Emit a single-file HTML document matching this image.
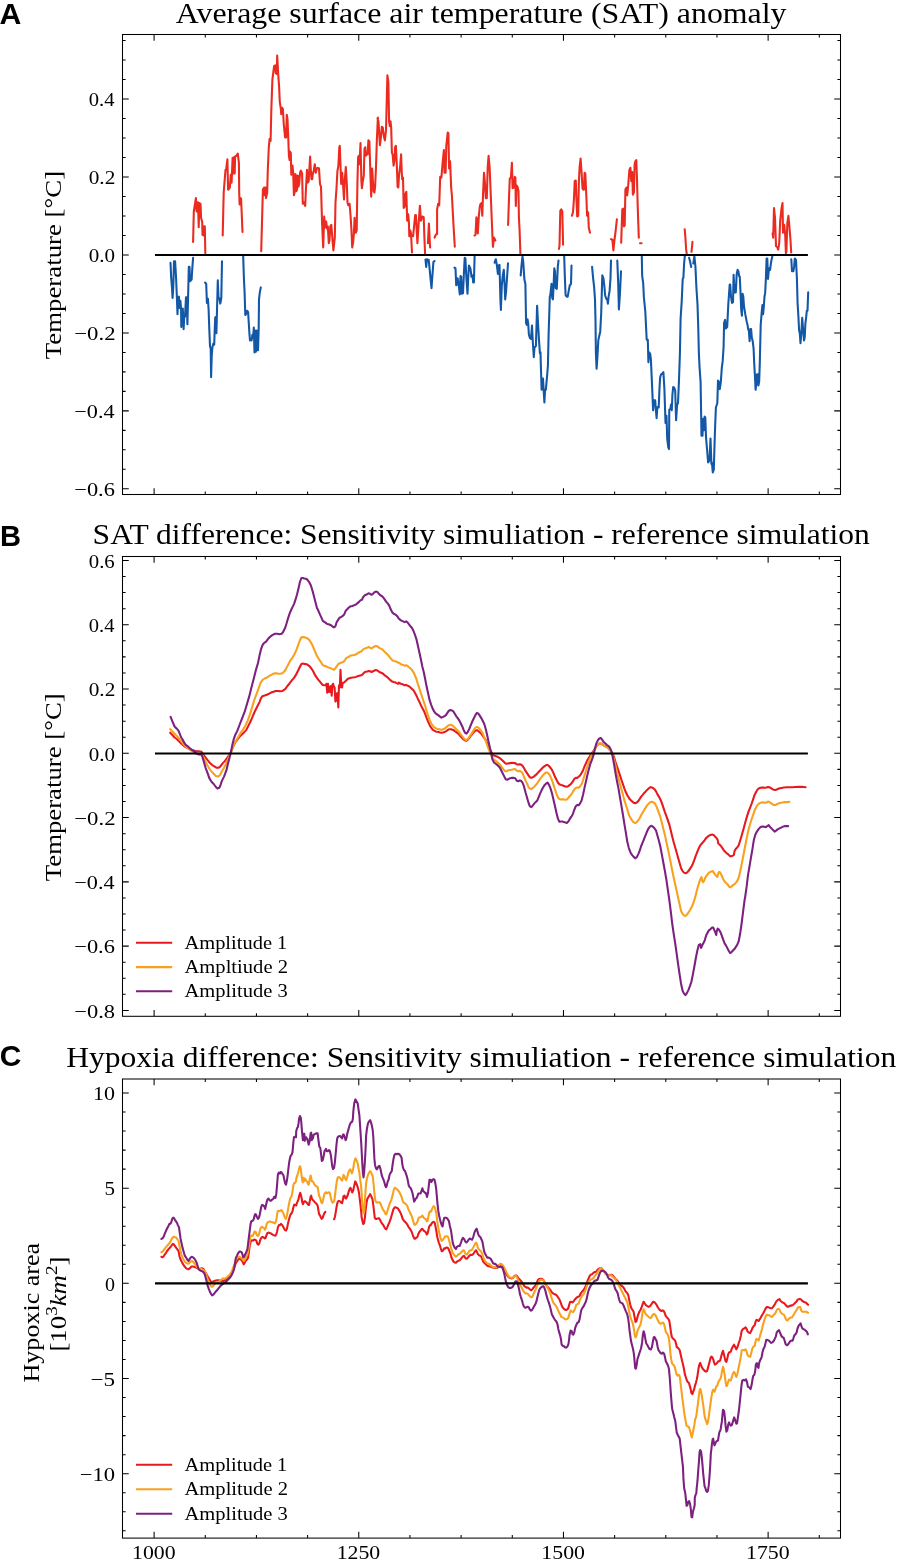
<!DOCTYPE html><html><head><meta charset="utf-8"><style>html,body{margin:0;padding:0;background:#fff;}svg{display:block;will-change:transform}text{fill:#000}</style></head><body>
<svg width="897" height="1559" viewBox="0 0 897 1559">
<rect width="897" height="1559" fill="#fff"/>
<g fill="none" stroke-width="2.08" stroke-linejoin="round" stroke-linecap="round">
<path d="M193.1 241.9 L193.8 211.5 L195.9 198.1 L196.6 211.5 L198.0 202.4 L198.7 227.1 L199.4 203.1 L200.5 203.8 L201.1 217.9 L202.2 222.1 L202.5 234.8 L203.4 235.5 L204.1 226.4 L204.8 226.4 L205.3 253.2 M222.7 235.5 L223.7 192.5 L225.5 169.9 L226.2 169.2 L227.4 159.3 L228.1 189.6 L229.1 188.9 L229.8 187.5 L230.8 174.8 L231.6 182.6 L232.6 157.9 L233.3 173.4 L234.0 157.2 L234.7 173.4 L235.1 156.5 L236.4 155.8 L237.8 153.6 L238.9 162.8 L239.2 192.5 L239.6 204.5 L240.4 198.1 L241.1 198.8 L242.5 232.0 M261.2 251.1 L262.9 189.6 L264.1 187.5 L264.6 195.3 L265.5 187.5 L266.0 198.1 L267.2 192.5 L267.8 169.9 L268.8 147.3 L269.6 138.8 L270.6 140.9 L271.3 110.6 L272.4 79.5 L274.1 66.1 L275.2 65.4 L275.8 73.2 L276.7 73.9 L277.2 55.5 L278.1 72.5 L279.1 86.6 L279.8 102.1 L280.9 109.2 L281.2 114.1 L282.3 107.8 L282.9 109.2 L283.7 123.3 L285.1 137.4 L286.1 137.4 L286.8 114.8 L287.5 119.1 L288.2 136.0 L288.9 155.8 L289.6 160.0 L289.9 151.5 L290.8 152.9 L291.3 174.8 L292.5 165.6 L293.2 172.7 L293.9 195.3 L294.6 192.5 L295.3 174.1 L296.0 175.5 L296.4 191.1 L297.0 189.6 L297.8 175.5 L298.4 186.8 L299.2 184.0 L300.2 172.0 L300.9 170.6 L302.1 173.4 L302.8 203.8 L304.0 202.4 L305.2 205.9 L305.9 189.6 L307.0 169.9 L307.7 182.6 L308.7 181.2 L310.1 156.5 L310.8 169.9 L311.5 179.1 L312.2 179.1 L312.9 173.4 L313.6 171.3 L314.8 164.2 L315.8 172.7 L316.8 168.5 L317.9 167.8 L319.0 168.5 L320.0 184.0 L321.0 186.8 L322.1 223.5 L323.2 247.5 L324.2 216.5 L324.9 227.8 L326.1 221.4 L327.1 228.5 L327.8 226.4 L328.8 243.3 L329.5 240.5 L330.3 226.4 L331.3 224.9 L332.3 237.6 L333.4 250.4 L334.8 237.6 L335.5 202.4 L336.5 188.2 L337.4 171.3 L338.4 165.6 L339.3 147.3 L339.8 145.9 L341.2 184.0 L342.2 172.7 L343.3 188.2 L344.0 199.5 L344.7 181.2 L345.8 167.1 L346.8 184.0 L347.5 202.4 L348.2 205.2 L349.6 203.8 L350.6 216.5 L351.5 230.6 L352.2 247.5 L353.2 241.9 L353.9 233.4 L354.6 217.9 L355.7 232.7 L356.7 230.6 L357.4 184.0 L358.1 157.2 L358.8 155.8 L359.5 164.2 L360.5 143.1 L361.4 181.2 L361.9 188.2 L362.8 181.2 L363.8 175.5 L364.5 148.7 L365.2 147.3 L365.9 155.8 L366.6 152.9 L367.6 154.4 L368.4 140.2 L369.4 141.6 L370.4 174.1 L371.2 196.7 L372.2 168.5 L372.9 181.2 L373.6 191.1 L374.4 192.5 L375.1 186.8 L376.0 167.1 L376.9 138.8 L377.9 117.6 L377.5 118.4 L378.5 121.9 L379.9 145.2 L380.9 137.4 L381.8 126.8 L382.8 127.5 L383.8 136.0 L384.9 140.5 L386.0 130.4 L387.4 75.3 L388.4 82.4 L389.1 121.9 L389.8 126.1 L390.5 121.2 L391.2 127.5 L391.9 152.9 L392.6 154.4 L393.6 165.6 L394.5 160.0 L395.0 147.3 L395.9 145.9 L396.9 167.1 L397.6 186.8 L398.3 187.5 L399.0 175.5 L400.1 167.1 L401.1 154.4 L401.8 172.7 L402.2 179.1 L403.0 177.6 L403.7 208.0 L404.6 206.6 L405.4 193.9 L406.3 191.8 L407.2 220.7 L408.2 214.4 L408.9 222.1 L409.3 236.2 L410.3 230.6 L411.0 233.4 L412.0 252.5 M413.1 236.2 L415.2 215.1 L415.9 215.1 L417.4 243.3 L418.8 220.7 L419.9 205.9 L420.9 220.7 L422.3 216.5 L423.7 217.2 L424.4 237.6 L425.1 253.9 M427.9 243.3 L428.9 223.5 L430.1 247.5 M434.6 237.6 L435.7 234.8 L437.1 234.1 L437.1 209.4 L438.2 203.8 L439.2 205.2 L440.2 176.9 L441.4 177.6 L442.5 164.2 L443.9 150.1 L444.5 172.7 L445.6 172.7 L446.3 145.9 L447.7 132.5 L448.4 133.2 L449.1 168.5 L450.1 161.4 L451.2 188.2 L451.9 195.3 L453.4 223.5 L454.8 246.8 M474.5 235.5 L475.5 234.8 L476.4 217.2 L476.9 220.7 L477.8 233.4 L478.8 216.5 L479.8 206.6 L480.6 203.8 L481.6 203.1 L482.3 215.8 L483.0 195.3 L484.0 172.7 L484.8 181.2 L485.8 198.1 L486.8 198.1 L487.7 167.1 L488.6 155.8 L489.6 167.1 L490.8 195.3 L491.9 223.5 L492.9 246.8 L494.0 237.6 L495.4 240.5 M508.1 224.9 L509.1 195.3 L509.8 178.4 L510.9 177.6 L511.9 162.8 L512.6 188.2 L513.7 187.5 L514.7 176.9 L515.4 177.6 L515.8 205.9 L516.5 185.4 L517.5 186.8 L518.5 191.1 L518.9 216.5 L519.6 230.6 L520.4 253.9 M558.9 248.9 L559.5 246.1 L560.3 210.8 L561.3 209.4 L562.3 211.5 L563.1 244.7 M571.9 215.8 L573.0 212.2 L574.0 198.1 L574.7 181.2 L575.8 180.5 L576.4 198.1 L577.2 216.5 L578.2 215.8 L578.9 181.2 L579.6 167.1 L580.6 158.6 L581.5 171.3 L582.5 188.2 L583.2 189.6 L583.9 189.6 L584.6 172.7 L585.3 173.4 L586.3 195.3 L587.1 215.8 L588.1 212.2 L588.8 227.8 L590.0 232.7 M611.0 239.1 L612.4 239.8 L613.4 250.4 L614.4 240.5 L615.5 232.0 L616.9 219.3 M621.2 242.6 L622.3 209.4 L623.3 208.7 L624.0 226.4 L624.7 225.6 L625.4 189.6 L626.5 187.5 L627.2 195.3 L628.2 185.4 L629.4 169.9 L630.4 167.8 L631.3 181.2 L632.2 172.0 L632.9 194.6 L633.9 192.5 L634.6 164.2 L635.3 161.4 L636.3 160.0 L637.0 179.8 L637.8 209.4 L638.8 237.6 M640.0 243.3 L641.6 243.3 M684.7 229.2 L685.4 237.6 L686.1 248.9 L686.8 254.6 M691.5 251.8 L692.5 241.9 M772.6 233.4 L773.2 237.6 L774.0 208.0 L775.0 217.9 L776.0 246.1 L777.1 246.8 L778.2 249.6 L779.2 243.3 L780.2 220.7 L781.4 209.4 L782.5 203.1 L783.0 232.7 L784.2 224.9 L785.2 234.8 L785.9 253.2 L786.4 251.8 L787.3 223.5 L788.4 215.8 L789.5 227.8 L790.5 240.5 L791.2 252.5" stroke="#eb2b20"/>
<path d="M170.5 262.7 L171.2 278.2 L171.9 286.7 L172.6 298.0 L173.3 286.7 L174.0 261.3 L175.1 261.3 L176.1 278.2 L176.8 295.2 L177.5 314.2 L178.2 298.0 L178.9 296.6 L179.6 307.9 L180.4 300.8 L181.1 309.3 L181.3 326.9 L182.2 309.3 L182.8 308.6 L183.6 329.1 L184.2 317.8 L185.0 316.4 L186.0 297.3 L186.7 297.3 L187.4 324.1 L188.1 296.6 L188.8 266.9 L189.5 266.9 L190.0 281.1 L190.9 280.4 L191.6 279.6 L192.4 266.9 L193.1 257.8 M205.1 282.5 L206.2 283.9 L206.9 302.9 L207.9 298.7 L208.6 309.3 L209.3 329.1 L210.0 346.0 L210.7 348.8 L211.1 377.1 L211.7 355.9 L212.4 347.4 L213.2 343.9 L214.2 344.6 L214.7 330.5 L215.2 317.8 L215.6 317.1 L216.4 333.3 L217.1 306.5 L217.8 280.4 L218.5 298.0 L219.2 298.0 L220.3 303.6 L221.3 298.0 L222.0 261.3 M243.2 256.4 L243.9 278.2 L244.6 292.4 L245.3 314.9 L246.0 314.2 L247.1 310.7 L248.1 312.1 L248.8 323.4 L249.5 334.7 L250.0 340.4 L250.9 339.6 L251.6 340.4 L252.4 334.7 L253.1 337.5 L253.8 327.6 L254.5 352.4 L255.2 330.5 L255.9 351.6 L256.6 330.5 L257.3 350.2 L258.0 350.2 L258.7 327.6 L259.0 299.4 L259.8 292.4 L260.8 287.4 M425.5 259.6 L426.2 266.9 L427.0 259.2 M428.7 259.9 L431.5 288.1 L433.4 262.0 L434.5 261.0 M454.5 267.6 L455.5 268.4 L456.2 285.3 L456.9 284.6 L457.6 278.2 L458.8 285.3 L459.8 294.5 L460.5 276.1 L461.2 276.8 L461.9 293.8 L463.0 293.1 L464.0 271.2 L464.7 257.8 L465.4 258.5 L466.4 278.2 L467.5 293.8 L468.2 278.2 L468.9 265.5 L470.4 268.4 L471.5 276.8 L472.5 275.4 L473.2 282.5 L473.9 282.5 L474.6 256.4 M494.6 262.7 L495.8 259.2 L496.9 265.5 L497.9 274.0 L498.5 265.5 L499.5 264.8 L499.9 279.6 L500.4 299.4 L500.9 310.0 L501.8 285.3 L502.8 275.4 L503.8 269.8 L504.6 285.3 L505.2 299.4 L506.0 292.4 L507.0 278.2 L508.0 263.4 M520.7 275.4 L521.5 265.5 L522.5 256.4 L523.2 261.3 L524.4 279.6 L525.4 283.9 L526.1 323.4 L526.8 324.8 L527.5 319.2 L528.2 323.4 L528.9 334.7 L530.0 338.2 L531.0 338.9 L532.0 325.5 L532.8 341.8 L533.8 357.3 L534.5 347.4 L535.9 346.0 L537.1 305.8 L538.1 324.8 L539.0 340.4 L539.9 353.1 L540.5 352.4 L540.9 367.2 L541.6 389.8 L542.3 378.5 L543.0 378.5 L543.7 391.2 L544.4 402.5 L545.1 389.8 L545.8 389.8 L547.0 377.1 L547.9 365.8 L548.6 334.7 L549.8 296.6 L550.3 295.2 L551.5 283.9 L552.2 298.0 L552.9 299.4 L553.6 285.3 L554.3 268.4 L555.0 271.2 L555.7 288.1 L556.8 288.8 L557.8 266.9 L558.5 260.6 M564.2 256.4 L564.9 278.2 L565.6 295.2 L566.7 296.6 L567.7 296.6 L568.7 290.9 L569.8 285.3 L571.0 283.9 L571.5 265.5 M592.1 266.9 L593.1 278.2 L594.1 286.7 L595.0 299.4 L595.5 320.6 L595.9 353.1 L596.6 368.6 L597.4 357.3 L598.3 340.4 L599.2 336.1 L600.2 331.9 L601.2 313.5 L602.3 275.4 L603.4 278.2 L604.4 286.7 L605.1 295.2 L606.2 298.7 L607.2 299.4 L607.9 303.6 L608.6 296.6 L609.6 290.9 L610.5 278.2 L611.0 260.6 M617.3 260.6 L618.2 283.2 L618.9 309.4 L619.9 294.5 L621.0 271.2 M641.8 256.4 L642.2 276.2 L643.2 283.2 L643.9 297.4 L645.3 311.5 L646.0 325.6 L646.7 339.7 L647.8 339.7 L648.4 362.3 L649.2 352.4 L650.2 353.8 L650.9 359.5 L651.6 375.0 L652.4 393.4 L653.1 410.3 L654.0 400.4 L655.2 400.4 L655.9 410.3 L656.6 418.1 L657.3 407.5 L658.0 406.8 L658.7 407.5 L659.4 390.5 L660.1 377.8 L661.1 374.3 L662.2 373.6 L663.4 372.2 L664.4 389.1 L665.1 410.3 L665.5 423.0 L666.5 415.9 L667.2 438.5 L668.2 447.0 L669.0 449.1 L669.3 409.6 L670.4 408.9 L671.0 404.6 L671.8 410.3 L672.4 394.8 L673.2 387.0 L674.2 387.7 L675.2 390.5 L676.1 420.2 L677.1 404.6 L678.0 403.2 L678.9 382.1 L679.9 353.8 L680.6 318.5 L681.7 301.6 L682.7 279.0 L683.4 277.6 L684.1 263.5 L684.8 256.4 M689.1 257.8 L690.2 262.1 L691.2 267.0 M693.3 263.5 L694.4 256.4 L695.4 266.3 L696.4 287.5 L697.5 304.4 L698.2 325.6 L698.9 353.8 L699.6 367.9 L700.6 382.1 L701.5 435.7 L702.5 435.7 L702.9 418.8 L703.9 430.1 L704.6 416.6 L705.3 417.4 L706.0 437.1 L707.1 449.8 L708.1 462.5 L709.5 460.4 L710.5 438.5 L711.4 463.9 L711.9 462.5 L712.8 472.4 L713.8 469.6 L714.5 445.6 L715.2 424.4 L715.9 407.5 L717.3 403.2 L718.0 380.6 L719.0 382.1 L719.8 389.1 L720.8 382.1 L721.8 367.9 L722.7 360.9 L723.6 346.8 L724.1 322.8 L725.1 319.9 L725.8 328.4 L727.2 327.0 L728.3 304.4 L729.7 284.6 L730.2 284.6 L731.0 296.6 L732.0 302.9 L733.0 302.2 L733.6 274.7 L734.1 283.9 L734.8 292.4 L735.8 292.4 L736.7 274.0 L737.6 269.8 L738.4 271.2 L739.1 276.1 L739.8 276.8 L740.5 292.4 L741.2 309.3 L741.9 315.6 L742.6 293.8 L743.3 296.6 L744.0 306.5 L745.4 314.9 L746.8 322.0 L747.5 324.8 L748.2 329.1 L748.9 331.2 L749.6 341.1 L750.4 329.1 L751.1 329.1 L751.8 337.5 L752.8 341.8 L753.6 348.8 L754.2 362.9 L755.0 377.1 L755.6 389.8 L756.4 382.7 L757.0 374.2 L757.8 374.2 L758.4 385.5 L759.2 381.3 L759.8 362.9 L760.7 324.8 L761.6 313.5 L762.4 305.1 L763.1 314.2 L763.8 306.5 L764.5 296.6 L765.2 292.4 L765.9 278.2 L766.6 258.5 L767.3 258.5 L768.0 278.9 L768.7 271.2 L769.4 268.4 L770.1 269.8 L770.8 264.1 L771.5 259.9 L772.5 255.6 M791.3 259.2 L792.0 271.2 L792.7 271.2 L793.4 271.2 L794.1 266.9 L794.8 258.5 L796.0 259.9 L796.9 278.2 L797.6 303.6 L798.4 316.4 L799.1 330.5 L799.8 333.3 L800.5 343.2 L801.2 334.7 L802.2 317.8 L803.3 331.9 L804.0 340.4 L804.7 337.5 L805.4 323.4 L806.1 317.8 L806.8 310.7 L807.5 310.7 L808.2 292.4" stroke="#1358a6"/>
<path d="M155 255H807.9" stroke="#000" stroke-linecap="butt"/>
<path d="M170.2 732.7 L172.4 735.0 L174.6 737.5 L176.8 739.0 L179.0 741.2 L181.2 743.4 L183.5 745.6 L185.7 747.1 L188.6 748.6 L191.6 749.8 L194.5 750.8 L196.7 751.3 L198.9 751.3 L201.6 751.8 L203.4 754.5 L205.6 757.5 L207.8 760.4 L210.0 763.1 L212.2 765.1 L214.4 766.3 L216.7 767.8 L218.4 767.8 L220.4 766.3 L222.6 763.4 L224.8 761.1 L227.0 758.2 L229.2 755.2 L231.1 751.5 L232.9 747.1 L235.1 742.7 L237.3 739.7 L239.5 736.8 L241.8 734.6 L244.0 732.4 L246.2 730.1 L248.4 725.7 L250.6 721.3 L252.8 716.1 L255.0 711.0 L257.3 706.5 L259.5 702.1 L260.9 698.4 L262.4 696.2 L264.6 695.5 L266.8 694.7 L269.1 693.7 L271.3 692.5 L273.5 691.8 L275.7 691.0 L277.9 691.0 L280.1 691.3 L282.3 691.0 L283.0 690.5 L284.4 689.7 L285.9 688.2 L287.4 686.0 L288.9 684.3 L290.3 682.3 L291.8 680.4 L294.0 677.9 L295.5 675.7 L297.0 672.7 L298.5 669.8 L299.9 666.8 L301.4 663.9 L302.9 663.6 L304.4 663.9 L306.6 664.2 L308.0 665.1 L309.5 666.1 L311.0 668.0 L312.5 670.1 L313.9 672.7 L315.4 675.7 L316.9 677.9 L318.4 679.8 L319.9 681.6 L321.3 683.4 L322.8 684.9 L324.3 685.3 L325.8 685.3 L326.5 683.8 L327.2 692.7 L328.0 683.8 L328.7 691.9 L329.4 686.8 L330.2 691.9 L330.9 686.0 L331.7 695.6 L332.4 685.3 L333.1 683.8 L333.9 686.8 L334.6 687.5 L335.4 701.5 L336.1 700.8 L336.8 693.4 L337.6 693.4 L338.3 707.4 L339.0 685.3 L339.8 687.5 L340.5 669.8 L341.3 686.0 L342.0 687.5 L342.7 683.1 L344.2 682.3 L345.7 680.9 L347.2 679.4 L348.6 678.4 L350.1 677.9 L352.3 677.5 L354.5 677.2 L356.0 676.9 L358.2 676.0 L360.4 675.4 L361.9 675.0 L363.4 673.5 L364.9 672.0 L367.1 671.6 L368.6 671.0 L370.0 671.3 L371.5 672.0 L373.0 671.3 L374.5 670.5 L375.9 670.1 L377.4 670.5 L378.9 671.6 L380.4 672.5 L381.8 673.0 L383.3 673.9 L384.8 675.4 L386.3 676.4 L387.7 677.5 L389.2 678.9 L390.7 680.4 L392.2 681.6 L393.7 682.0 L395.1 682.3 L396.6 683.1 L398.1 683.8 L398.7 682.7 L400.9 683.8 L403.1 684.4 L404.6 685.3 L406.1 684.9 L407.5 685.6 L409.0 686.3 L410.5 687.5 L412.0 688.9 L413.5 690.3 L414.9 692.7 L416.4 695.6 L417.9 698.9 L419.4 701.8 L420.8 705.1 L422.3 708.0 L423.8 710.7 L425.3 714.4 L426.7 718.1 L428.2 721.8 L429.7 725.2 L431.2 727.7 L432.6 729.6 L434.1 730.6 L435.6 731.4 L437.1 731.8 L438.5 732.1 L440.0 732.5 L441.5 732.8 L443.0 732.5 L444.4 732.1 L445.9 731.4 L447.4 730.2 L448.9 729.3 L450.4 729.2 L451.8 729.4 L453.3 729.9 L454.8 731.1 L456.3 732.1 L457.7 733.3 L459.2 734.6 L460.7 736.5 L462.2 738.0 L463.6 739.5 L465.1 740.5 L466.6 740.7 L468.1 739.5 L469.5 737.6 L471.0 735.5 L472.5 733.6 L474.0 732.1 L475.4 730.6 L476.9 730.2 L478.4 731.1 L479.9 732.4 L481.3 733.6 L482.8 735.8 L484.3 738.0 L485.8 740.2 L487.3 743.9 L488.7 746.9 L490.2 749.8 L491.7 752.8 L493.2 755.0 L494.6 755.7 L496.1 756.2 L497.6 756.8 L499.1 757.6 L500.5 758.7 L502.0 760.1 L503.5 761.6 L505.0 763.1 L506.4 763.8 L507.9 763.5 L510.1 763.1 L512.3 762.8 L513.7 763.1 L515.2 763.1 L516.6 764.3 L518.1 764.6 L519.6 764.3 L521.1 764.6 L522.5 765.8 L524.0 768.0 L525.5 770.9 L527.0 773.1 L528.5 775.4 L529.9 777.3 L531.4 777.9 L532.9 777.1 L534.4 776.1 L535.8 774.9 L537.3 773.4 L538.8 771.7 L540.3 770.2 L541.7 768.7 L543.2 767.2 L544.7 766.1 L546.2 765.0 L547.6 765.0 L549.1 766.1 L550.6 768.0 L552.1 770.2 L553.5 773.1 L555.0 776.8 L556.5 779.8 L558.0 782.7 L559.4 784.2 L560.9 784.9 L562.4 785.2 L563.9 786.1 L565.4 786.4 L566.8 786.7 L568.3 786.1 L569.8 784.9 L571.3 783.5 L572.7 781.7 L574.2 779.0 L575.7 777.9 L577.2 777.9 L578.6 776.8 L580.1 775.4 L581.6 773.1 L583.1 770.2 L584.5 766.5 L586.0 763.1 L587.5 759.9 L589.0 757.6 L590.4 755.4 L591.9 753.2 L593.4 751.0 L594.9 748.8 L596.3 746.3 L597.8 744.8 L599.3 743.6 L600.8 743.6 L602.3 744.4 L603.7 745.4 L605.2 746.3 L606.7 747.0 L608.2 748.0 L609.6 749.5 L611.1 751.0 L612.6 753.7 L614.1 757.2 L615.5 762.1 L617.0 766.5 L618.5 770.9 L620.0 775.4 L621.4 779.8 L622.9 784.2 L624.4 788.6 L625.9 792.3 L627.3 795.3 L628.8 797.5 L629.4 798.8 L630.9 800.3 L632.4 801.7 L633.9 802.8 L635.3 803.2 L636.8 802.5 L638.3 801.0 L639.8 798.8 L641.2 796.6 L642.7 794.8 L644.2 792.9 L645.7 791.4 L647.1 789.9 L648.6 788.5 L650.1 787.4 L651.6 787.4 L653.0 788.0 L654.5 789.2 L656.0 791.4 L657.5 794.4 L658.9 796.6 L660.4 799.5 L661.9 803.2 L663.4 807.6 L664.9 812.1 L666.3 815.8 L667.8 820.2 L669.3 824.6 L670.8 830.5 L672.2 836.4 L673.7 842.3 L675.2 847.5 L676.7 852.7 L678.1 857.8 L679.6 863.0 L681.1 868.2 L682.6 871.1 L684.0 872.6 L685.5 873.3 L687.0 872.6 L688.5 871.1 L689.9 868.9 L691.4 866.7 L692.9 863.7 L694.4 859.7 L695.8 855.6 L697.3 851.9 L698.8 848.2 L700.3 845.3 L701.8 843.5 L703.2 842.0 L704.7 840.1 L706.2 837.9 L707.7 836.7 L709.1 835.7 L710.6 834.9 L712.1 834.5 L713.6 834.9 L715.0 836.4 L716.5 837.9 L717.7 840.1 L718.3 843.5 L719.5 844.5 L720.9 846.0 L722.4 848.2 L723.9 850.4 L725.4 851.9 L726.8 853.4 L728.3 854.4 L730.1 856.3 L731.3 856.3 L732.7 855.6 L733.9 854.9 L734.5 851.2 L735.7 849.0 L737.2 847.5 L738.7 845.3 L740.1 840.8 L741.6 835.7 L743.1 830.5 L744.4 825.7 L745.8 820.5 L747.3 815.4 L748.8 810.9 L750.3 807.2 L751.7 803.5 L753.2 799.1 L754.7 794.7 L756.2 791.7 L757.6 789.5 L759.1 788.3 L760.6 787.7 L762.1 787.5 L763.5 787.6 L765.0 787.7 L766.5 787.5 L768.0 787.0 L769.4 787.3 L770.9 788.0 L772.4 789.1 L773.9 789.8 L775.4 790.0 L776.8 789.5 L778.3 788.8 L779.8 788.3 L781.3 788.0 L782.7 787.7 L784.2 787.5 L786.4 787.3 L789.4 787.3 L792.3 787.2 L795.3 787.0 L798.2 786.9 L801.2 786.9 L803.4 787.0 L805.6 787.2" stroke="#e8191e"/>
<path d="M170.2 729.1 L172.4 731.6 L174.6 733.8 L176.8 736.1 L179.0 738.3 L181.2 741.2 L183.5 744.2 L185.7 746.4 L188.6 748.6 L191.6 750.8 L194.5 752.6 L196.7 753.3 L198.9 753.8 L201.6 754.5 L203.1 756.7 L204.9 760.4 L207.1 764.8 L209.3 768.5 L211.5 771.5 L213.7 773.7 L215.9 775.9 L218.1 776.6 L219.9 775.2 L221.8 771.5 L224.0 767.8 L226.3 763.4 L228.5 758.2 L230.7 753.0 L232.6 747.9 L234.4 743.4 L236.6 739.7 L238.8 736.1 L241.0 732.4 L243.2 729.4 L245.4 725.7 L247.7 720.6 L249.9 714.6 L252.1 707.3 L254.3 699.9 L256.5 694.0 L258.7 688.1 L260.6 682.9 L262.4 680.0 L264.6 678.5 L266.8 677.7 L269.1 676.0 L271.3 674.8 L273.5 673.6 L275.7 673.3 L277.9 673.6 L280.1 673.8 L282.3 673.3 L283.0 672.7 L284.4 671.3 L285.9 669.1 L287.4 666.1 L288.9 663.2 L290.3 660.6 L291.8 658.7 L294.0 655.0 L295.5 652.1 L297.0 648.4 L298.5 644.0 L299.9 640.3 L301.4 637.3 L302.9 637.0 L304.4 637.3 L306.6 638.1 L308.0 638.8 L309.5 640.3 L311.0 642.5 L312.5 645.4 L313.9 648.8 L315.4 652.4 L316.9 655.8 L318.4 658.3 L319.9 660.6 L321.3 662.7 L322.8 665.1 L324.3 665.7 L326.5 666.5 L328.7 667.6 L330.9 668.3 L332.4 669.1 L333.9 669.8 L335.4 668.3 L336.8 666.1 L338.3 664.2 L339.8 663.2 L342.0 662.4 L343.5 661.7 L344.9 660.2 L346.4 658.0 L348.6 656.8 L350.1 655.8 L352.3 655.3 L354.5 655.0 L356.0 654.3 L358.2 652.8 L360.4 651.8 L361.9 650.9 L363.4 649.1 L364.9 648.4 L367.1 647.7 L368.6 646.9 L370.0 647.7 L371.5 648.4 L373.0 647.4 L374.5 646.5 L375.9 645.9 L377.4 646.2 L378.9 647.7 L380.4 648.4 L381.8 649.1 L383.3 650.3 L384.8 652.1 L386.3 653.3 L387.7 654.7 L389.2 656.5 L390.7 658.3 L392.2 660.2 L393.7 660.9 L395.1 661.2 L396.6 661.7 L398.1 662.7 L398.7 662.7 L400.9 664.2 L403.1 664.9 L404.6 665.7 L406.1 665.2 L407.5 666.1 L409.0 667.2 L410.5 668.6 L412.0 670.1 L413.5 672.3 L414.9 675.3 L416.4 679.0 L417.9 684.1 L419.4 688.6 L420.8 693.0 L422.3 697.4 L423.8 701.8 L425.3 706.3 L426.7 711.4 L428.2 715.9 L429.7 720.3 L431.2 723.2 L432.6 725.5 L434.1 727.2 L435.6 728.1 L437.1 728.7 L438.5 729.2 L440.0 729.4 L441.5 729.9 L443.0 729.3 L444.4 728.7 L445.9 727.7 L447.4 726.2 L448.9 725.2 L450.4 724.7 L451.8 725.2 L453.3 726.2 L454.8 727.7 L456.3 729.2 L457.7 730.6 L459.2 732.1 L460.7 734.3 L462.2 736.1 L463.6 738.0 L465.1 739.5 L466.6 739.9 L468.1 738.7 L469.5 736.5 L471.0 734.3 L472.5 732.1 L474.0 729.6 L475.4 727.7 L476.9 726.9 L478.4 727.7 L479.9 729.2 L481.3 731.1 L482.8 733.6 L484.3 737.3 L485.8 741.0 L487.3 745.4 L488.7 749.1 L490.2 752.8 L491.7 756.5 L493.2 759.1 L494.6 760.1 L496.1 761.2 L497.6 762.4 L499.1 763.8 L500.5 765.3 L502.0 767.5 L503.5 769.4 L505.0 770.9 L506.4 771.2 L507.9 770.5 L509.4 770.0 L511.6 769.7 L513.7 769.2 L515.2 769.0 L516.6 770.5 L518.1 771.2 L519.6 770.9 L521.1 771.7 L522.5 773.1 L524.0 776.8 L525.5 780.5 L527.0 783.5 L528.5 787.2 L529.9 788.6 L531.4 789.1 L532.9 787.9 L534.4 786.7 L535.8 784.9 L537.3 783.2 L538.8 780.8 L540.3 778.7 L541.7 776.8 L543.2 774.9 L544.7 773.4 L546.2 772.4 L547.6 772.7 L549.1 774.3 L550.6 776.8 L552.1 780.5 L553.5 784.9 L555.0 789.4 L556.5 793.8 L558.0 797.5 L559.4 799.0 L560.9 799.4 L562.4 799.4 L563.9 799.4 L565.4 799.7 L566.8 799.4 L568.3 797.9 L569.8 796.0 L571.3 794.5 L572.7 792.3 L574.2 789.7 L575.7 787.9 L577.2 787.6 L578.6 787.6 L580.1 786.4 L581.6 784.2 L583.1 780.2 L584.5 775.4 L586.0 770.9 L587.5 765.8 L589.0 761.3 L590.4 757.6 L591.9 754.7 L593.4 752.5 L594.9 749.2 L596.3 746.6 L597.8 744.8 L599.3 743.6 L600.8 743.3 L602.3 744.4 L603.7 745.4 L605.2 746.3 L606.7 746.9 L608.2 748.0 L609.6 749.5 L611.1 751.7 L612.6 755.1 L614.1 759.9 L615.5 765.8 L617.0 772.4 L618.5 778.3 L620.0 784.2 L621.4 789.4 L622.9 794.5 L624.4 800.4 L625.9 804.9 L627.3 809.3 L628.8 814.5 L629.4 815.8 L630.9 818.7 L632.4 820.9 L633.9 822.4 L635.3 823.1 L636.8 822.0 L638.3 820.2 L639.8 818.0 L641.2 815.0 L642.7 812.5 L644.2 809.9 L645.7 807.6 L647.1 805.4 L648.6 803.7 L650.1 802.2 L651.6 801.7 L653.0 802.2 L654.5 803.2 L656.0 805.4 L657.5 809.1 L658.9 812.8 L660.4 817.2 L661.9 823.1 L663.4 829.0 L664.9 834.9 L666.3 841.6 L667.8 848.2 L669.3 855.6 L670.8 863.0 L672.2 870.4 L673.7 877.7 L675.2 884.4 L676.7 891.0 L678.1 897.7 L679.6 904.3 L681.1 911.0 L682.6 913.9 L684.0 915.4 L685.5 916.1 L687.0 914.6 L688.5 912.4 L689.9 910.2 L691.4 907.6 L692.9 904.3 L694.4 899.9 L695.8 894.7 L697.3 888.8 L698.8 883.7 L700.3 879.2 L701.5 877.0 L702.0 880.0 L702.9 882.2 L704.0 881.0 L705.4 877.5 L706.9 875.1 L708.4 873.3 L709.9 872.1 L711.3 871.5 L712.8 871.1 L714.3 873.3 L715.8 875.5 L717.3 877.0 L718.3 873.3 L719.2 871.8 L720.2 872.6 L721.7 875.5 L723.2 878.9 L724.6 881.4 L726.1 882.9 L727.6 884.4 L729.1 886.6 L730.1 887.3 L731.3 886.6 L732.7 885.4 L734.2 884.4 L735.7 882.9 L737.2 881.0 L738.7 877.7 L740.1 871.8 L741.6 864.5 L743.1 857.1 L744.4 850.0 L745.8 842.7 L747.3 835.3 L748.8 828.6 L750.3 823.5 L751.7 819.0 L753.2 814.6 L754.7 810.2 L756.2 807.2 L757.6 805.0 L759.1 803.5 L760.6 802.8 L762.1 802.4 L763.5 802.4 L765.0 802.8 L766.5 802.5 L768.0 801.6 L769.4 802.1 L770.9 803.1 L772.4 804.3 L773.9 805.0 L775.4 805.0 L776.8 804.3 L778.3 803.5 L779.8 803.1 L781.3 802.8 L782.7 802.4 L784.2 802.1 L785.7 802.1 L787.2 802.1 L789.4 801.8" stroke="#f8a11f"/>
<path d="M170.6 716.9 L172.4 721.3 L174.6 726.5 L176.8 728.7 L178.6 730.9 L179.8 733.8 L181.2 737.5 L182.7 739.7 L184.2 742.7 L185.7 744.9 L187.9 746.4 L190.1 748.6 L192.3 750.1 L194.5 751.5 L196.7 753.8 L198.9 754.5 L201.2 753.8 L202.6 757.5 L204.1 762.6 L205.6 767.8 L207.8 773.7 L209.3 778.1 L211.5 781.8 L213.7 784.0 L215.9 787.0 L217.4 788.5 L219.3 787.7 L220.4 785.5 L221.8 781.1 L224.0 776.6 L226.3 770.7 L227.7 764.8 L229.2 758.9 L230.7 753.0 L232.2 745.6 L233.6 739.7 L235.1 735.3 L237.3 730.9 L239.5 725.0 L241.8 719.1 L244.7 711.7 L246.9 704.3 L249.1 696.9 L251.3 688.1 L253.6 679.2 L255.8 670.4 L258.0 663.0 L259.5 655.6 L260.9 649.7 L262.4 645.3 L263.9 643.1 L266.1 641.6 L268.3 638.6 L270.5 636.4 L272.7 634.9 L275.0 633.8 L277.2 633.8 L279.4 634.2 L281.6 633.8 L283.1 632.0 L283.7 630.7 L285.2 627.7 L286.6 623.3 L288.1 618.1 L289.6 613.7 L291.1 610.0 L292.5 607.1 L294.0 604.1 L295.5 599.7 L297.0 594.5 L298.5 588.6 L299.9 582.0 L301.4 578.0 L302.9 578.0 L304.4 578.6 L306.6 579.0 L308.0 580.5 L309.5 582.7 L311.0 585.7 L312.5 590.8 L313.9 596.0 L315.4 601.9 L316.9 607.8 L318.4 610.8 L319.9 614.4 L321.3 617.4 L322.8 620.8 L324.3 621.8 L325.8 622.9 L327.2 624.0 L328.7 624.3 L330.9 625.2 L332.4 626.3 L333.9 627.3 L335.4 626.3 L336.8 621.8 L338.3 619.6 L339.8 617.4 L341.3 617.0 L342.7 615.9 L344.2 614.4 L345.7 610.8 L347.2 609.3 L348.6 607.8 L350.1 606.6 L352.3 606.0 L354.5 605.1 L356.0 604.6 L357.5 603.1 L359.0 601.9 L360.4 600.4 L361.9 599.7 L363.4 596.7 L364.9 595.3 L367.1 594.2 L368.6 593.3 L370.0 593.8 L371.5 594.8 L373.0 593.8 L374.5 592.3 L375.9 591.6 L377.4 591.9 L378.9 593.8 L380.4 595.3 L381.8 596.0 L383.3 597.5 L384.8 599.7 L386.3 601.9 L387.7 603.4 L389.2 605.6 L390.7 609.3 L392.2 612.2 L393.7 613.7 L395.1 614.4 L396.6 615.5 L398.1 617.4 L398.7 618.5 L400.9 620.4 L403.1 621.4 L404.6 622.1 L406.1 621.4 L407.5 622.4 L409.0 624.4 L410.5 626.3 L412.0 628.0 L413.5 631.0 L414.9 634.7 L416.4 639.1 L417.9 645.8 L419.4 652.4 L420.8 659.0 L422.3 666.4 L423.8 672.3 L425.3 679.7 L426.7 687.1 L428.2 693.7 L429.7 700.4 L431.2 704.8 L432.6 708.5 L434.1 711.4 L435.6 713.4 L437.1 714.4 L438.5 715.4 L440.0 716.6 L441.5 717.6 L443.0 716.9 L444.4 716.3 L445.9 715.1 L447.4 712.9 L448.9 710.7 L450.4 710.0 L451.8 710.4 L453.3 711.4 L454.8 713.7 L456.3 716.3 L457.7 718.1 L459.2 720.3 L460.7 723.2 L462.2 726.2 L463.6 729.9 L465.1 732.8 L466.6 733.6 L468.1 731.4 L469.5 728.4 L471.0 724.7 L472.5 721.0 L474.0 718.1 L475.4 715.1 L476.9 712.9 L478.4 713.7 L479.9 715.9 L481.3 718.1 L482.8 721.0 L484.3 724.0 L485.8 729.2 L487.3 735.8 L488.7 742.4 L490.2 749.1 L491.7 755.0 L492.4 759.4 L493.9 762.4 L495.4 763.5 L496.8 764.6 L498.3 766.1 L499.8 767.5 L501.3 770.5 L502.7 773.4 L504.2 776.4 L505.7 779.3 L507.2 779.8 L508.7 778.9 L510.1 778.3 L511.6 777.9 L513.1 777.9 L513.7 777.9 L515.2 778.3 L516.6 780.5 L518.1 781.3 L519.6 780.5 L521.1 780.8 L522.5 782.7 L524.0 786.4 L525.5 792.3 L527.0 797.5 L528.5 802.7 L529.9 806.3 L531.4 807.1 L532.9 805.3 L534.4 803.4 L535.8 801.9 L537.3 800.4 L538.8 796.8 L540.3 793.1 L541.7 790.1 L543.2 787.2 L544.7 784.9 L546.2 783.5 L547.6 782.7 L549.1 784.9 L550.6 788.6 L552.1 793.8 L553.5 799.7 L555.0 806.3 L556.5 813.0 L558.0 818.9 L559.4 821.8 L560.9 821.5 L562.4 821.5 L563.9 822.1 L565.4 822.6 L566.8 822.9 L568.3 821.5 L569.8 818.9 L571.3 816.7 L572.7 814.5 L574.2 810.0 L575.7 806.3 L577.2 804.9 L578.6 805.3 L580.1 803.4 L581.6 800.4 L583.1 794.5 L584.5 787.9 L586.0 781.3 L587.5 774.6 L589.0 768.7 L590.4 763.5 L591.9 759.9 L593.4 755.4 L594.9 748.8 L596.3 743.6 L597.8 740.4 L599.3 738.5 L600.8 738.0 L602.3 739.9 L603.7 742.1 L605.2 743.3 L606.7 744.8 L608.2 745.8 L609.6 747.3 L611.1 750.3 L612.6 756.2 L614.1 764.3 L615.5 773.1 L617.0 781.3 L618.5 788.6 L620.0 797.5 L621.4 805.6 L622.9 814.5 L624.4 824.1 L625.9 832.9 L627.3 841.8 L628.8 847.7 L629.4 849.7 L630.9 853.4 L632.4 855.3 L633.9 857.1 L635.3 858.3 L636.8 857.1 L638.3 854.1 L639.8 850.4 L641.2 846.0 L642.7 842.3 L644.2 838.6 L645.7 834.9 L647.1 831.3 L648.6 828.3 L650.1 826.4 L651.6 825.8 L653.0 826.8 L654.5 828.3 L656.0 830.5 L657.5 835.7 L658.9 840.8 L660.4 846.8 L661.9 854.9 L663.4 863.0 L664.9 871.1 L666.3 879.2 L667.8 889.6 L669.3 899.9 L670.8 911.7 L672.2 923.5 L673.7 933.8 L675.2 943.4 L676.7 953.8 L678.1 964.1 L679.6 974.4 L681.1 984.0 L682.6 990.7 L684.0 993.6 L685.5 995.1 L687.0 992.9 L688.5 989.9 L689.9 986.2 L691.4 981.8 L692.9 974.4 L694.4 966.3 L695.8 958.2 L697.3 950.8 L698.8 944.9 L700.3 944.2 L701.0 947.9 L701.8 946.4 L703.2 943.4 L704.7 940.5 L706.2 935.3 L707.7 932.4 L709.1 930.1 L710.6 929.1 L712.1 927.6 L713.3 927.6 L714.3 930.1 L715.3 932.4 L716.2 935.0 L716.8 930.9 L717.7 928.7 L718.7 929.4 L720.2 931.6 L721.7 935.3 L723.2 939.7 L724.6 943.4 L726.1 945.6 L727.6 948.6 L729.1 951.5 L730.1 953.0 L731.3 952.3 L732.7 950.8 L734.2 949.3 L735.7 947.1 L737.2 944.9 L738.7 941.2 L740.1 933.8 L741.6 923.5 L743.1 911.7 L744.6 899.9 L745.1 897.3 L746.6 886.9 L748.0 875.1 L749.5 866.3 L751.0 857.4 L752.5 848.6 L753.9 839.7 L755.4 834.5 L756.9 831.6 L758.4 829.4 L759.9 827.6 L761.3 826.7 L762.8 826.4 L764.3 826.7 L765.8 827.2 L767.2 826.1 L768.7 825.2 L770.2 827.2 L771.7 828.6 L773.1 830.1 L774.6 831.6 L776.1 830.6 L777.6 829.4 L779.0 828.6 L780.5 827.9 L782.0 827.2 L783.5 826.4 L784.9 826.1 L786.4 826.1 L788.2 826.1" stroke="#7d2181"/>
<path d="M155 753.5H807.9" stroke="#000" stroke-linecap="butt"/>
<path d="M161.4 1256.8 L162.5 1257.2 L163.7 1256.2 L164.8 1254.5 L166.0 1252.8 L167.1 1251.0 L168.3 1249.5 L169.4 1248.2 L170.6 1247.0 L171.7 1245.3 L172.9 1243.8 L174.1 1244.7 L175.2 1246.4 L176.4 1248.2 L177.5 1249.5 L178.7 1251.6 L179.5 1256.2 L180.4 1259.1 L181.6 1261.4 L182.7 1263.7 L183.9 1265.5 L185.0 1266.9 L186.2 1268.4 L187.3 1268.9 L188.5 1269.2 L189.6 1268.4 L190.8 1267.2 L192.0 1266.4 L193.1 1266.6 L194.3 1266.9 L195.4 1267.2 L196.6 1267.8 L197.7 1268.4 L198.9 1268.7 L200.0 1268.9 L201.2 1268.4 L202.3 1268.4 L203.5 1268.9 L204.7 1271.2 L205.8 1273.0 L207.0 1275.3 L208.1 1277.0 L209.3 1279.1 L210.4 1281.1 L211.6 1282.2 L212.7 1281.6 L213.9 1281.1 L215.0 1280.7 L216.2 1280.5 L217.4 1280.3 L218.5 1280.3 L219.7 1280.5 L220.8 1281.1 L222.0 1280.7 L223.1 1281.1 L224.3 1280.5 L225.4 1279.9 L226.6 1279.3 L227.7 1278.2 L228.9 1277.0 L230.1 1275.6 L231.2 1273.6 L232.4 1271.8 L233.5 1269.5 L234.7 1266.1 L235.8 1263.2 L237.0 1261.4 L238.1 1259.7 L239.3 1258.5 L240.5 1259.1 L241.6 1260.3 L242.8 1262.0 L243.7 1264.3 L244.5 1263.2 L245.6 1260.9 L246.8 1259.7 L248.0 1258.0 L248.8 1252.8 L249.7 1245.8 L250.8 1241.2 L252.0 1240.3 L253.2 1240.6 L254.3 1239.5 L255.2 1239.9 L256.4 1240.7 L257.2 1243.6 L258.3 1244.7 L259.2 1243.6 L260.2 1240.1 L261.3 1237.8 L262.5 1236.9 L263.6 1237.2 L264.8 1238.4 L265.6 1237.8 L266.4 1235.5 L267.3 1233.2 L268.5 1232.6 L269.6 1233.0 L270.8 1233.2 L271.9 1234.1 L273.1 1234.9 L274.2 1235.3 L275.4 1235.7 L276.3 1234.3 L277.1 1231.5 L277.9 1227.4 L278.9 1225.1 L279.8 1225.3 L280.9 1223.9 L281.8 1224.5 L282.9 1226.3 L284.1 1228.6 L285.2 1230.3 L286.0 1230.6 L287.0 1228.6 L287.9 1223.9 L288.7 1220.5 L289.5 1217.6 L290.4 1214.7 L291.6 1213.3 L292.5 1211.2 L293.3 1207.8 L294.1 1204.9 L295.3 1204.9 L296.2 1205.5 L296.8 1203.2 L297.6 1201.4 L298.5 1199.1 L299.4 1195.1 L300.2 1192.8 L300.8 1194.5 L301.7 1198.5 L302.2 1202.0 L302.9 1204.3 L303.7 1202.6 L304.3 1201.4 L305.2 1201.4 L306.0 1202.0 L306.8 1202.6 L307.5 1203.7 L308.3 1204.9 L309.1 1204.9 L309.8 1200.9 L310.6 1196.8 L311.2 1195.7 L311.8 1198.0 L312.4 1199.7 L313.3 1200.3 L314.1 1201.4 L315.2 1202.6 L316.4 1203.7 L317.6 1205.5 L318.4 1210.1 L319.1 1214.1 L319.9 1215.3 L320.7 1217.0 L321.6 1218.8 L322.5 1218.2 L323.3 1215.9 L324.1 1213.6 L325.3 1211.8 M334.1 1219.3 L334.9 1217.0 L335.7 1212.4 L336.4 1207.8 L337.2 1203.7 L338.0 1201.4 L338.9 1200.9 L340.1 1201.4 L341.2 1202.6 L342.1 1203.2 L343.0 1199.1 L343.5 1196.2 L344.5 1195.7 L345.3 1198.0 L346.1 1198.5 L347.0 1196.8 L347.9 1194.5 L348.7 1191.6 L348.7 1191.8 L349.6 1188.9 L350.5 1187.8 L351.4 1190.1 L352.2 1192.4 L353.1 1190.7 L354.0 1186.6 L355.2 1181.4 L356.3 1183.2 L357.5 1186.6 L358.3 1189.5 L359.1 1193.5 L359.8 1199.3 L360.6 1206.2 L361.2 1212.0 L361.7 1217.8 L362.6 1221.8 L363.2 1224.1 L364.1 1223.0 L364.9 1217.8 L365.6 1210.3 L366.4 1203.9 L367.2 1199.3 L368.1 1197.6 L369.2 1195.9 L370.2 1194.1 L371.3 1196.4 L372.5 1199.3 L373.3 1205.1 L374.1 1212.0 L374.8 1217.8 L375.6 1218.9 L376.8 1218.9 L377.9 1218.4 L379.1 1218.4 L380.2 1220.1 L381.0 1221.8 L382.0 1223.6 L383.1 1224.7 L384.3 1227.0 L385.4 1228.8 L386.3 1229.3 L387.1 1227.6 L388.0 1225.3 L388.9 1223.6 L390.0 1220.7 L391.0 1217.8 L391.8 1214.9 L392.6 1212.0 L393.5 1209.1 L394.7 1207.4 L395.8 1207.4 L397.2 1208.0 L398.3 1209.1 L399.5 1210.9 L400.7 1213.2 L401.8 1216.1 L402.7 1218.9 L403.9 1220.7 L405.0 1221.8 L406.2 1223.0 L407.4 1224.7 L408.3 1226.5 L409.4 1228.2 L410.6 1229.9 L411.7 1231.7 L412.6 1234.5 L413.4 1236.8 L414.3 1238.6 L415.2 1238.6 L416.4 1237.7 L417.5 1236.8 L418.3 1234.0 L419.5 1231.7 L420.6 1230.5 L421.4 1229.3 L422.4 1228.8 L423.3 1230.3 L424.4 1231.1 L425.8 1232.2 L426.8 1234.5 L427.6 1233.4 L428.4 1229.9 L429.1 1227.0 L429.9 1225.3 L430.7 1225.3 L431.6 1223.6 L432.5 1222.4 L433.7 1221.8 L434.8 1223.0 L435.6 1227.0 L436.5 1231.7 L437.1 1236.3 L438.0 1239.7 L438.8 1242.6 L439.7 1244.9 L440.6 1247.8 L441.8 1251.3 L442.9 1250.7 L444.1 1248.4 L444.8 1248.7 L446.0 1247.8 L447.2 1247.5 L448.3 1248.3 L449.2 1250.6 L450.4 1253.5 L451.3 1257.0 L452.5 1259.9 L453.6 1261.6 L454.8 1262.5 L455.9 1262.8 L457.1 1261.6 L458.2 1260.7 L459.4 1260.5 L460.6 1259.3 L461.7 1257.9 L462.9 1256.4 L464.0 1255.8 L464.8 1257.0 L465.6 1258.4 L466.8 1258.7 L467.9 1257.6 L469.1 1256.1 L470.3 1254.9 L471.4 1254.9 L472.6 1254.7 L473.7 1253.3 L474.9 1251.5 L476.0 1250.3 L477.0 1252.1 L477.9 1254.1 L479.0 1255.3 L480.2 1255.8 L481.3 1256.8 L482.5 1259.9 L483.6 1262.2 L484.8 1263.3 L486.0 1264.5 L487.3 1265.7 L488.5 1266.2 L489.9 1266.5 L491.0 1266.8 L492.2 1267.4 L493.3 1267.6 L494.5 1267.6 L495.7 1268.0 L496.8 1268.0 L498.0 1267.4 L499.1 1266.8 L500.3 1266.2 L501.4 1266.8 L502.6 1268.0 L503.7 1269.1 L504.9 1271.4 L506.1 1273.7 L507.2 1275.5 L508.4 1276.9 L509.5 1277.8 L510.7 1278.0 L511.8 1278.4 L513.0 1277.8 L514.1 1276.4 L515.3 1275.5 L516.4 1275.5 L517.4 1276.6 L518.5 1278.4 L519.7 1279.5 L520.8 1280.7 L522.0 1282.4 L523.1 1284.1 L524.3 1285.9 L525.5 1287.0 L526.6 1287.6 L527.8 1287.6 L528.9 1288.4 L530.1 1289.6 L531.2 1290.3 L532.4 1289.3 L533.5 1287.6 L534.7 1286.4 L535.8 1284.7 L536.8 1282.4 L537.9 1280.1 L539.1 1278.9 L539.6 1279.3 L540.8 1278.7 L541.9 1279.0 L543.3 1279.8 L544.5 1281.8 L545.6 1284.5 L546.8 1286.2 L547.9 1287.3 L549.1 1288.5 L550.2 1289.9 L551.4 1291.7 L552.6 1293.1 L553.7 1293.7 L554.9 1294.3 L556.0 1294.8 L557.2 1296.0 L558.3 1297.7 L559.5 1299.5 L560.6 1302.4 L561.6 1305.2 L562.7 1307.6 L563.9 1308.7 L565.3 1309.9 L566.4 1309.9 L567.6 1309.1 L568.5 1307.6 L569.4 1304.1 L570.2 1301.8 L571.4 1301.8 L572.5 1302.4 L573.7 1301.2 L574.8 1299.5 L576.0 1298.3 L577.1 1297.2 L578.3 1296.8 L579.5 1296.0 L580.6 1293.7 L581.8 1292.0 L582.9 1290.8 L584.1 1289.1 L585.2 1287.3 L586.4 1284.5 L587.5 1281.0 L588.7 1278.1 L589.8 1275.8 L591.0 1274.6 L592.2 1274.1 L593.3 1272.9 L594.5 1272.1 L595.6 1272.1 L596.8 1270.9 L597.9 1269.4 L599.1 1268.6 L600.2 1268.3 L601.4 1268.3 L602.6 1269.4 L603.7 1270.9 L604.9 1272.6 L606.0 1274.1 L607.2 1274.9 L608.3 1275.2 L609.5 1275.2 L610.6 1274.9 L611.8 1274.9 L612.9 1275.8 L614.1 1277.2 L615.3 1278.7 L616.4 1279.8 L617.6 1281.0 L618.7 1282.7 L619.9 1284.5 L621.0 1285.6 L622.2 1286.2 L623.3 1287.3 L624.5 1289.1 L625.6 1291.4 L626.8 1292.5 L628.0 1294.3 L628.8 1297.7 L629.5 1301.2 L630.3 1304.7 L631.1 1307.6 L632.0 1309.3 L632.9 1310.4 L633.7 1312.2 L634.6 1317.3 L635.5 1321.9 L636.4 1321.4 L637.2 1317.9 L638.3 1314.4 L639.5 1311.5 L640.6 1309.8 L641.5 1307.5 L642.5 1304.6 L643.6 1301.7 L644.8 1303.5 L645.9 1305.2 L647.1 1306.0 L648.5 1306.9 L649.6 1306.4 L650.8 1305.2 L651.9 1303.5 L653.1 1301.7 L654.5 1302.3 L655.6 1303.5 L656.8 1305.2 L657.9 1307.5 L659.1 1309.2 L660.3 1310.4 L661.4 1311.0 L662.6 1310.4 L663.7 1311.0 L664.6 1312.7 L665.6 1315.6 L666.7 1317.3 L668.1 1318.5 L669.3 1320.8 L670.2 1326.6 L671.0 1332.3 L671.8 1337.0 L673.0 1338.7 L674.1 1339.3 L675.3 1341.0 L676.2 1344.5 L676.8 1347.3 L677.6 1347.6 L678.5 1348.5 L679.7 1350.2 L680.6 1354.3 L681.4 1357.7 L682.2 1361.2 L683.1 1364.7 L684.0 1369.3 L684.8 1373.9 L685.7 1376.8 L686.6 1379.7 L687.7 1382.0 L688.9 1382.9 L689.8 1386.0 L690.6 1388.9 L691.4 1393.0 L692.4 1394.1 L693.3 1391.2 L694.1 1389.5 L694.9 1386.0 L695.8 1383.1 L696.7 1379.7 L697.6 1375.1 L698.4 1369.3 L699.3 1364.7 L700.2 1362.9 L701.0 1365.2 L701.8 1367.0 L702.7 1368.7 L703.9 1369.9 L704.8 1371.0 L706.0 1371.6 L707.1 1371.0 L707.9 1368.1 L708.8 1364.7 L709.7 1361.2 L710.6 1357.7 L711.4 1356.6 L712.2 1357.2 L713.1 1358.9 L714.1 1362.4 L714.9 1364.7 L715.7 1364.1 L716.6 1363.5 L717.5 1362.4 L718.3 1361.2 L719.5 1361.2 L720.3 1360.0 L721.2 1356.6 L722.1 1353.1 L723.0 1350.8 L723.8 1353.7 L724.7 1357.7 L725.6 1361.2 L726.4 1361.8 L727.2 1358.9 L728.2 1354.3 L729.1 1352.5 L729.6 1352.2 L730.8 1351.6 L731.7 1348.7 L732.9 1346.4 L734.0 1344.7 L735.2 1347.0 L736.3 1349.3 L737.5 1347.0 L738.6 1343.5 L739.8 1340.0 L740.9 1335.4 L741.7 1330.8 L742.9 1329.1 L744.1 1328.5 L745.6 1327.3 L746.7 1329.1 L747.5 1331.4 L748.7 1332.5 L750.2 1333.1 L751.3 1330.8 L752.5 1327.9 L753.6 1326.2 L754.8 1325.0 L755.6 1321.6 L756.4 1319.8 L757.6 1320.4 L758.7 1321.0 L759.6 1319.3 L760.8 1317.5 L762.0 1315.2 L763.1 1313.5 L764.3 1311.2 L765.4 1308.9 L766.6 1307.1 L768.0 1307.1 L769.5 1307.7 L770.6 1308.3 L771.8 1308.3 L772.9 1307.1 L774.1 1305.4 L775.2 1303.7 L776.0 1301.9 L777.2 1300.6 L778.3 1299.6 L779.5 1299.1 L780.4 1300.6 L781.6 1301.9 L782.7 1302.5 L783.9 1302.9 L785.0 1304.2 L786.2 1305.6 L787.4 1306.6 L788.5 1306.6 L789.7 1306.0 L790.8 1305.6 L792.0 1305.4 L793.1 1304.8 L794.3 1303.7 L795.4 1302.5 L796.6 1301.4 L797.7 1299.6 L798.9 1299.1 L800.3 1299.1 L801.2 1299.6 L802.4 1301.0 L803.5 1301.7 L804.7 1302.2 L805.8 1302.5 L807.0 1303.7 L808.1 1304.8" stroke="#e8191e"/>
<path d="M161.4 1252.2 L162.5 1251.6 L163.7 1250.2 L164.8 1248.7 L166.0 1247.2 L167.1 1245.8 L168.3 1244.5 L169.4 1243.3 L170.6 1241.2 L171.7 1238.9 L172.9 1237.2 L174.1 1236.6 L175.2 1237.2 L176.4 1237.8 L177.5 1239.5 L178.7 1241.2 L179.5 1245.8 L180.4 1250.5 L181.6 1255.1 L182.7 1258.0 L183.9 1260.3 L185.0 1262.0 L186.2 1262.9 L187.3 1263.4 L188.5 1263.7 L189.6 1262.6 L190.8 1261.4 L192.0 1261.1 L193.1 1261.8 L194.3 1263.2 L195.4 1264.9 L196.6 1266.6 L197.7 1267.8 L198.9 1268.4 L200.0 1268.7 L201.2 1268.9 L202.3 1269.5 L203.5 1270.1 L204.7 1271.2 L205.8 1273.6 L207.0 1277.0 L208.1 1280.5 L209.3 1283.4 L210.4 1285.3 L211.6 1286.8 L212.7 1286.5 L213.9 1285.1 L215.0 1283.7 L216.2 1282.8 L217.4 1282.2 L218.5 1281.6 L219.7 1281.1 L220.8 1279.9 L222.0 1279.3 L223.1 1278.4 L224.3 1278.8 L225.4 1278.2 L226.6 1277.6 L227.7 1276.4 L228.9 1275.6 L230.1 1274.1 L231.2 1272.4 L232.4 1270.1 L233.5 1266.6 L234.7 1263.7 L235.8 1259.7 L237.0 1258.0 L238.1 1257.4 L239.3 1256.8 L240.5 1257.4 L241.6 1258.0 L242.8 1259.7 L243.9 1260.9 L245.1 1259.1 L246.2 1256.8 L247.4 1254.5 L248.5 1249.3 L249.5 1242.4 L250.3 1237.2 L251.4 1235.5 L252.6 1236.0 L253.7 1233.7 L254.6 1231.5 L255.8 1232.0 L256.7 1234.9 L257.9 1236.1 L258.7 1235.3 L259.5 1232.0 L260.4 1228.6 L261.5 1226.8 L262.7 1227.4 L263.9 1228.0 L265.0 1229.7 L265.9 1227.4 L266.7 1223.9 L267.9 1222.2 L269.1 1221.6 L270.2 1221.6 L271.4 1221.9 L272.5 1222.2 L273.7 1222.8 L274.8 1223.4 L276.0 1221.1 L276.8 1217.0 L277.7 1211.2 L278.9 1210.7 L279.8 1211.2 L280.6 1210.7 L281.4 1210.1 L282.3 1211.2 L283.5 1213.6 L284.4 1216.4 L285.2 1218.2 L286.0 1218.8 L287.0 1215.3 L287.9 1210.1 L288.7 1205.5 L289.5 1201.4 L290.4 1198.0 L291.6 1196.2 L292.5 1191.6 L293.3 1185.3 L294.1 1183.0 L295.0 1183.0 L296.0 1181.2 L296.4 1177.8 L297.3 1175.5 L298.3 1172.0 L299.1 1168.5 L299.9 1166.2 L300.8 1168.5 L301.4 1174.3 L302.2 1180.1 L302.9 1182.4 L303.7 1177.8 L304.3 1181.2 L305.2 1178.9 L306.0 1180.1 L306.8 1181.2 L307.5 1182.4 L308.3 1184.7 L308.9 1184.1 L309.8 1178.9 L310.6 1175.5 L311.2 1177.8 L311.8 1181.2 L312.6 1181.2 L313.5 1182.4 L314.4 1184.7 L315.2 1185.3 L316.4 1186.4 L317.6 1187.0 L318.4 1191.6 L319.1 1195.7 L319.9 1197.4 L320.7 1199.7 L321.4 1202.6 L322.2 1203.2 L323.0 1200.3 L323.9 1195.7 L324.8 1193.3 L326.0 1192.2 L326.8 1193.3 L327.9 1192.8 L329.1 1192.2 L329.9 1193.3 L330.8 1197.4 L331.8 1201.4 L332.6 1202.6 L333.4 1202.0 L334.3 1200.9 L335.2 1193.9 L336.0 1187.0 L336.8 1181.2 L337.8 1177.2 L338.9 1177.2 L340.1 1177.8 L341.2 1179.5 L342.1 1180.6 L343.0 1177.8 L343.5 1174.9 L344.5 1176.6 L345.3 1178.9 L346.1 1180.1 L347.0 1177.8 L347.9 1174.3 L348.7 1171.4 L349.4 1170.5 L350.2 1169.3 L351.0 1171.0 L351.9 1173.3 L352.6 1171.6 L353.3 1168.1 L354.2 1162.4 L355.4 1158.3 L356.5 1160.1 L357.7 1163.5 L358.6 1168.7 L359.4 1172.8 L360.2 1179.7 L360.9 1184.3 L361.7 1193.5 L362.3 1202.8 L362.9 1209.7 L363.5 1213.2 L364.4 1209.7 L365.2 1195.9 L366.0 1184.3 L366.9 1178.5 L367.9 1175.1 L369.0 1172.8 L370.2 1171.0 L371.3 1172.8 L372.7 1176.2 L373.6 1184.3 L374.4 1193.5 L375.3 1200.5 L376.2 1202.2 L377.3 1202.8 L378.5 1202.2 L379.6 1202.2 L380.6 1203.9 L381.4 1206.2 L382.2 1208.0 L383.1 1209.7 L384.3 1211.4 L385.4 1213.8 L386.3 1214.3 L387.1 1212.0 L388.0 1209.1 L388.9 1206.2 L390.0 1202.8 L391.2 1200.5 L392.1 1197.0 L392.9 1194.1 L393.7 1190.1 L394.7 1187.8 L395.8 1188.3 L397.2 1189.5 L398.3 1190.7 L399.5 1192.4 L400.7 1194.7 L401.8 1197.6 L402.7 1201.1 L403.9 1202.8 L405.0 1203.4 L406.2 1204.5 L407.4 1206.2 L408.3 1209.1 L409.4 1211.4 L410.6 1213.8 L411.7 1216.1 L412.6 1218.9 L413.4 1221.8 L414.3 1224.7 L415.2 1224.7 L416.4 1223.6 L417.5 1221.8 L418.3 1218.4 L419.5 1217.2 L420.6 1217.2 L421.4 1216.6 L422.4 1215.5 L423.3 1217.2 L424.4 1218.4 L425.8 1218.9 L426.8 1221.3 L427.6 1220.7 L428.4 1216.6 L429.1 1213.2 L429.9 1211.4 L430.7 1212.0 L431.6 1210.3 L432.5 1208.0 L433.7 1206.2 L434.8 1207.4 L435.6 1210.3 L436.5 1214.3 L437.1 1220.1 L438.0 1225.9 L438.8 1230.5 L439.7 1235.1 L440.6 1238.6 L441.8 1240.9 L442.9 1239.7 L444.1 1238.0 L444.8 1236.8 L446.0 1236.2 L447.2 1236.2 L448.3 1237.4 L449.2 1240.8 L450.4 1245.5 L451.3 1248.9 L452.5 1252.4 L453.6 1254.1 L454.8 1255.8 L455.9 1256.8 L457.1 1255.8 L458.2 1254.5 L459.4 1253.8 L460.6 1253.0 L461.7 1251.8 L462.9 1250.6 L464.0 1250.3 L464.8 1252.4 L465.6 1254.1 L466.8 1254.5 L467.9 1253.3 L469.1 1251.2 L470.3 1250.3 L471.4 1250.3 L472.6 1248.9 L473.7 1246.6 L474.9 1244.3 L476.0 1242.6 L477.0 1244.3 L477.9 1247.8 L479.0 1249.5 L480.2 1250.6 L481.3 1251.8 L482.5 1254.7 L483.6 1258.2 L484.8 1260.5 L486.0 1262.2 L487.3 1263.3 L488.5 1263.7 L489.9 1264.5 L491.0 1265.7 L492.2 1266.5 L493.3 1267.2 L494.5 1267.2 L495.7 1267.2 L496.8 1267.4 L498.0 1266.2 L499.1 1264.8 L500.3 1263.7 L501.4 1263.9 L502.6 1265.1 L503.7 1266.8 L504.9 1269.1 L506.1 1271.4 L507.2 1273.7 L508.4 1276.1 L509.5 1277.2 L510.7 1277.6 L511.8 1277.8 L513.0 1277.6 L514.1 1276.6 L515.1 1276.1 L516.2 1276.1 L517.4 1278.4 L518.5 1281.2 L519.7 1284.1 L520.8 1285.9 L522.0 1288.2 L523.1 1290.5 L524.3 1292.2 L525.5 1293.4 L526.6 1293.4 L527.8 1293.7 L528.9 1295.1 L530.1 1296.5 L531.2 1297.2 L532.4 1296.8 L533.5 1293.9 L534.7 1291.6 L535.8 1289.3 L536.8 1286.4 L537.9 1283.6 L539.1 1281.8 L539.6 1280.4 L540.8 1279.8 L541.9 1279.8 L543.3 1280.4 L544.5 1281.6 L545.6 1284.5 L546.8 1286.2 L547.9 1288.5 L549.1 1290.8 L550.2 1293.1 L551.2 1296.6 L552.1 1299.5 L553.2 1302.4 L554.4 1304.1 L555.6 1305.2 L556.7 1307.0 L557.9 1309.9 L559.0 1312.2 L560.2 1314.5 L561.3 1316.8 L562.5 1317.4 L563.6 1317.9 L564.8 1319.1 L565.9 1319.4 L567.1 1319.1 L568.3 1317.9 L569.1 1315.1 L569.9 1312.2 L570.8 1310.4 L572.0 1311.6 L573.1 1312.2 L574.3 1310.4 L575.2 1308.1 L576.3 1304.7 L577.5 1304.1 L578.6 1303.5 L579.5 1301.2 L580.3 1298.9 L581.2 1297.2 L582.3 1295.4 L583.5 1294.3 L584.7 1292.0 L585.8 1289.1 L587.0 1285.6 L588.1 1282.7 L589.3 1281.0 L590.4 1279.8 L591.6 1279.3 L592.7 1278.7 L593.9 1277.5 L595.0 1275.8 L596.2 1274.6 L597.4 1272.9 L598.5 1270.6 L599.7 1269.1 L600.8 1268.3 L602.0 1268.9 L603.1 1270.3 L604.3 1271.8 L605.4 1273.5 L606.6 1274.6 L607.7 1275.6 L608.9 1275.8 L610.1 1275.2 L611.2 1275.2 L612.4 1276.4 L613.5 1277.5 L614.7 1278.7 L615.8 1279.8 L617.0 1281.6 L618.1 1283.9 L619.3 1286.2 L620.5 1288.5 L621.6 1290.8 L622.8 1293.1 L623.9 1295.4 L625.1 1297.7 L626.2 1300.0 L627.4 1302.9 L628.3 1307.0 L629.1 1311.6 L629.9 1315.1 L630.8 1318.5 L631.8 1320.8 L632.6 1323.1 L633.4 1326.6 L634.3 1331.2 L634.6 1334.6 L635.5 1337.5 L636.4 1335.8 L637.2 1331.8 L638.3 1328.9 L639.5 1326.6 L640.6 1324.2 L641.5 1319.6 L642.5 1312.7 L643.6 1309.2 L644.4 1311.0 L645.6 1313.9 L646.7 1315.0 L647.9 1316.2 L649.1 1317.3 L650.2 1318.2 L651.4 1317.3 L652.5 1315.0 L653.7 1313.9 L654.8 1314.4 L656.0 1316.2 L657.1 1318.5 L658.3 1321.4 L659.4 1323.1 L660.6 1323.7 L661.8 1323.1 L662.9 1322.5 L664.1 1324.2 L664.9 1327.7 L665.8 1331.8 L667.0 1333.5 L668.1 1335.2 L669.0 1339.3 L669.8 1346.2 L670.4 1353.1 L671.3 1360.0 L672.1 1363.5 L673.3 1364.7 L674.5 1366.4 L675.6 1370.4 L676.4 1373.9 L677.3 1375.6 L678.5 1374.8 L679.7 1376.2 L680.6 1383.1 L681.4 1390.1 L682.2 1397.0 L683.1 1403.9 L684.0 1410.9 L684.8 1416.6 L685.7 1421.2 L686.6 1425.9 L687.7 1426.4 L688.9 1427.0 L690.0 1430.5 L691.0 1434.5 L691.8 1437.4 L692.6 1433.9 L693.5 1429.3 L694.4 1424.7 L695.2 1418.9 L696.1 1417.2 L697.0 1410.9 L697.9 1403.9 L698.7 1397.0 L699.5 1390.6 L700.2 1388.9 L701.0 1391.2 L701.8 1395.8 L702.7 1401.6 L703.7 1408.5 L704.5 1415.5 L705.3 1418.9 L706.2 1421.2 L707.1 1424.1 L707.9 1422.4 L708.8 1416.6 L709.7 1409.7 L710.6 1402.8 L711.4 1397.0 L712.2 1392.4 L712.9 1390.1 L713.7 1389.5 L714.5 1391.8 L715.5 1388.9 L716.4 1386.0 L717.2 1386.0 L718.0 1383.1 L718.9 1380.8 L719.8 1379.7 L720.6 1378.5 L721.5 1374.5 L722.1 1370.4 L723.0 1366.7 L723.8 1369.3 L724.7 1375.1 L725.6 1382.0 L726.4 1386.0 L727.2 1385.5 L728.2 1381.4 L729.1 1379.7 L729.6 1380.5 L730.8 1380.5 L731.7 1377.6 L732.9 1373.5 L734.0 1371.8 L735.2 1374.1 L736.3 1377.0 L737.5 1373.5 L738.6 1367.8 L739.8 1362.0 L740.9 1356.2 L741.7 1350.4 L742.9 1349.9 L744.1 1350.4 L745.6 1349.3 L746.7 1351.6 L747.5 1355.1 L748.7 1356.2 L750.2 1356.8 L751.3 1352.7 L752.5 1348.1 L753.6 1346.4 L754.8 1345.8 L755.6 1341.2 L756.4 1338.9 L757.6 1339.5 L758.7 1340.6 L759.6 1337.2 L760.8 1333.1 L762.0 1329.1 L763.1 1324.5 L764.3 1320.4 L765.4 1317.0 L766.6 1314.6 L768.0 1315.2 L769.5 1315.2 L770.6 1316.4 L771.8 1317.0 L772.9 1315.8 L774.1 1314.6 L775.2 1313.5 L776.0 1311.8 L777.2 1309.4 L778.3 1308.9 L779.5 1309.4 L780.4 1311.8 L781.6 1313.5 L782.7 1314.1 L783.9 1314.6 L785.0 1317.0 L786.2 1319.8 L787.4 1320.4 L788.5 1319.3 L789.7 1318.1 L790.8 1317.5 L792.0 1317.5 L793.1 1315.8 L794.3 1313.5 L795.4 1311.8 L796.6 1310.0 L797.7 1307.7 L798.9 1307.1 L800.3 1307.1 L801.2 1310.6 L802.4 1311.8 L803.5 1311.8 L804.7 1311.8 L805.8 1311.8 L807.0 1312.1 L808.1 1312.9" stroke="#f8a11f"/>
<path d="M161.4 1238.9 L162.5 1238.3 L163.7 1236.6 L164.8 1233.7 L166.0 1230.8 L167.1 1228.5 L168.3 1226.2 L169.4 1223.9 L170.6 1223.7 L171.4 1221.6 L172.3 1218.7 L173.2 1217.6 L174.1 1218.1 L174.9 1219.9 L175.8 1221.0 L176.9 1222.7 L177.9 1225.1 L179.0 1227.4 L179.8 1233.1 L180.6 1238.9 L181.6 1243.5 L182.5 1247.6 L183.3 1250.5 L184.1 1253.3 L184.8 1255.7 L185.6 1256.8 L186.4 1258.0 L187.3 1259.7 L188.5 1260.9 L189.6 1259.1 L190.8 1257.4 L192.0 1256.8 L193.1 1257.4 L194.3 1258.5 L195.4 1260.3 L196.6 1262.6 L197.5 1265.5 L198.3 1268.4 L199.5 1270.1 L200.6 1270.7 L201.8 1271.0 L202.9 1271.8 L204.1 1273.0 L204.9 1274.7 L205.8 1278.2 L206.7 1281.6 L207.5 1285.1 L208.7 1288.6 L209.8 1291.5 L211.0 1293.8 L212.2 1295.3 L213.3 1294.6 L214.5 1293.2 L215.6 1291.8 L216.8 1290.6 L217.9 1289.1 L219.1 1287.6 L220.2 1286.3 L221.4 1285.1 L222.6 1284.2 L223.7 1283.4 L224.9 1282.6 L226.0 1281.6 L227.2 1280.7 L228.3 1279.3 L229.5 1278.2 L230.6 1276.8 L231.8 1274.7 L232.9 1272.4 L234.1 1268.9 L234.9 1264.3 L235.8 1258.0 L237.0 1255.7 L238.1 1253.3 L239.3 1251.6 L240.5 1251.6 L241.6 1252.2 L242.5 1254.5 L243.3 1257.4 L244.1 1256.8 L245.1 1254.5 L246.2 1252.2 L247.4 1249.3 L248.0 1244.7 L248.8 1237.8 L249.7 1230.8 L250.6 1223.9 L251.4 1221.0 L252.6 1221.0 L253.7 1219.3 L254.5 1215.8 L255.2 1214.1 L256.0 1214.7 L256.9 1217.0 L257.9 1218.8 L258.7 1218.2 L259.5 1215.9 L260.4 1211.2 L261.3 1206.6 L262.1 1204.9 L263.3 1205.5 L264.4 1206.6 L265.2 1208.9 L266.2 1204.3 L267.3 1199.7 L268.5 1198.5 L269.6 1200.3 L270.8 1200.9 L271.9 1199.7 L273.1 1199.1 L274.2 1196.8 L275.4 1198.0 L276.3 1193.9 L277.1 1184.7 L277.9 1174.3 L278.9 1172.6 L279.8 1173.7 L280.6 1172.0 L281.4 1172.2 L282.3 1173.7 L283.5 1175.5 L284.4 1180.1 L285.2 1183.5 L286.0 1184.7 L287.0 1180.1 L287.9 1173.1 L288.7 1166.2 L289.5 1160.4 L290.4 1156.4 L291.6 1154.7 L292.5 1152.4 L293.3 1143.1 L293.9 1137.3 L295.0 1136.8 L296.0 1137.3 L296.2 1131.6 L297.1 1128.1 L297.9 1127.0 L298.5 1123.5 L299.1 1118.9 L299.9 1116.0 L300.8 1117.7 L301.4 1123.5 L302.0 1131.6 L302.5 1136.2 L302.9 1140.2 L303.3 1133.9 L304.3 1133.9 L304.8 1140.8 L305.4 1138.5 L306.0 1137.3 L306.6 1138.5 L307.2 1138.5 L307.7 1140.8 L308.7 1144.8 L309.5 1142.0 L310.0 1138.5 L310.6 1133.3 L311.2 1132.7 L311.8 1140.2 L312.4 1136.2 L312.9 1138.5 L313.5 1135.0 L314.1 1134.5 L315.2 1133.9 L316.4 1133.3 L317.6 1133.3 L318.1 1137.3 L318.7 1142.0 L319.3 1146.6 L320.2 1147.7 L320.7 1151.2 L321.4 1157.0 L321.8 1161.0 L322.7 1160.4 L323.7 1155.8 L324.5 1151.2 L325.3 1150.0 L326.0 1148.9 L326.8 1151.2 L327.9 1151.2 L329.1 1150.0 L329.9 1151.2 L330.8 1154.7 L331.4 1159.3 L332.2 1166.2 L333.1 1169.1 L334.1 1167.9 L334.9 1162.2 L335.7 1153.5 L336.4 1145.4 L337.2 1138.5 L338.0 1136.8 L338.9 1136.2 L340.1 1136.0 L341.2 1137.3 L342.1 1138.5 L343.0 1134.5 L343.8 1134.5 L344.7 1137.3 L345.6 1140.2 L346.4 1138.5 L347.2 1133.9 L348.2 1130.4 L349.1 1127.0 L349.6 1125.4 L350.5 1123.1 L351.4 1122.0 L352.2 1121.7 L352.9 1118.5 L353.3 1111.6 L354.2 1103.5 L355.4 1099.4 L356.5 1101.2 L357.7 1103.5 L358.6 1109.8 L359.4 1115.6 L360.0 1124.3 L360.6 1133.5 L361.2 1142.7 L361.7 1152.0 L362.3 1163.5 L362.9 1172.8 L363.5 1177.4 L364.1 1172.8 L364.9 1161.2 L365.6 1148.5 L366.1 1135.8 L366.9 1128.9 L367.9 1123.7 L369.0 1121.4 L370.2 1120.2 L371.0 1122.5 L371.8 1125.4 L372.7 1130.0 L373.3 1137.0 L373.9 1148.5 L374.4 1158.9 L375.0 1164.7 L375.9 1168.1 L376.8 1169.3 L377.6 1168.1 L378.5 1166.4 L379.4 1165.8 L380.2 1168.1 L381.0 1171.6 L381.7 1175.1 L382.5 1177.4 L383.3 1179.1 L384.3 1182.0 L385.2 1185.5 L386.0 1187.2 L386.8 1185.5 L387.7 1181.4 L388.6 1179.7 L389.5 1175.1 L390.6 1172.8 L391.8 1171.0 L392.6 1164.7 L393.5 1158.9 L394.4 1154.9 L395.6 1153.7 L397.0 1154.3 L398.1 1153.7 L399.3 1154.3 L400.4 1155.4 L401.6 1157.7 L402.2 1163.5 L403.0 1167.6 L403.9 1169.9 L405.0 1171.0 L406.0 1173.9 L406.8 1176.2 L407.9 1180.8 L408.7 1185.5 L409.7 1187.2 L410.8 1188.3 L411.7 1190.7 L412.6 1193.5 L413.4 1197.6 L414.1 1201.6 L414.9 1200.5 L415.7 1198.7 L416.6 1198.2 L417.5 1195.9 L418.3 1193.5 L419.5 1193.5 L420.6 1193.5 L421.4 1191.2 L422.4 1188.3 L423.3 1191.2 L424.1 1191.8 L425.3 1193.0 L426.1 1193.5 L427.0 1197.0 L427.9 1193.5 L428.7 1186.6 L429.5 1179.7 L430.5 1179.7 L431.4 1182.0 L432.2 1180.3 L433.3 1179.1 L434.5 1179.7 L435.3 1183.2 L436.2 1188.9 L436.8 1195.9 L437.4 1202.8 L438.3 1210.9 L439.1 1215.5 L439.9 1218.9 L440.8 1222.4 L441.8 1225.3 L442.6 1226.5 L443.4 1221.3 L444.3 1217.8 L445.2 1217.7 L446.4 1217.7 L447.5 1218.9 L449.0 1221.2 L449.8 1225.8 L451.0 1230.4 L451.8 1236.2 L452.7 1242.6 L453.6 1245.5 L454.8 1247.8 L455.9 1248.9 L457.1 1246.6 L458.5 1246.0 L459.6 1246.0 L460.8 1243.1 L461.9 1239.7 L463.1 1237.9 L464.2 1239.1 L465.2 1241.4 L466.3 1242.6 L467.5 1241.4 L468.6 1239.7 L469.8 1238.5 L470.9 1239.1 L472.1 1239.7 L473.3 1236.8 L474.4 1232.7 L475.6 1229.9 L476.7 1228.7 L477.5 1231.6 L478.3 1234.5 L479.3 1236.2 L480.4 1237.1 L481.6 1239.7 L482.5 1242.0 L483.3 1246.6 L484.1 1251.2 L485.0 1253.5 L486.2 1255.8 L487.3 1257.6 L488.7 1257.6 L489.9 1258.2 L491.0 1259.3 L492.2 1261.6 L493.1 1263.3 L494.3 1263.9 L495.4 1263.9 L496.6 1265.1 L497.7 1266.8 L498.9 1266.8 L500.0 1266.8 L501.2 1266.5 L502.4 1267.4 L503.5 1270.9 L504.4 1274.3 L505.2 1278.4 L506.1 1282.4 L507.0 1284.7 L508.1 1287.0 L509.3 1287.9 L510.7 1287.9 L511.8 1287.6 L513.0 1286.4 L514.1 1284.1 L515.3 1281.5 L516.4 1281.2 L517.4 1282.4 L518.3 1285.9 L519.1 1289.3 L519.9 1293.9 L520.8 1296.8 L522.0 1300.3 L522.9 1303.8 L523.7 1306.1 L524.9 1307.6 L526.0 1307.6 L527.5 1306.7 L528.7 1307.2 L529.8 1309.5 L531.0 1310.7 L532.1 1309.9 L533.3 1307.8 L534.1 1306.1 L535.3 1304.3 L536.4 1301.5 L537.2 1298.0 L538.2 1293.9 L539.1 1290.5 L539.6 1289.1 L540.8 1287.6 L541.9 1286.8 L543.3 1286.2 L544.2 1287.3 L545.4 1290.8 L546.5 1295.4 L547.7 1299.5 L548.9 1302.9 L550.0 1306.4 L550.9 1309.9 L551.7 1313.9 L552.9 1316.2 L554.1 1318.5 L555.2 1320.3 L556.4 1321.4 L557.5 1324.3 L558.3 1328.9 L559.2 1332.4 L560.2 1335.8 L561.0 1339.3 L561.6 1344.5 L562.7 1345.7 L563.9 1346.2 L565.3 1347.6 L566.4 1347.4 L567.6 1346.2 L568.5 1343.9 L569.1 1339.3 L569.6 1334.7 L570.6 1330.6 L571.7 1331.2 L572.5 1334.1 L573.3 1334.7 L574.3 1332.4 L575.2 1327.8 L576.3 1324.9 L577.5 1322.6 L578.6 1322.2 L579.5 1319.7 L580.3 1315.1 L581.2 1310.4 L582.3 1308.1 L583.5 1306.4 L584.7 1304.1 L585.8 1301.8 L586.7 1298.9 L587.5 1294.8 L588.3 1291.4 L589.3 1288.5 L590.4 1286.2 L591.6 1284.5 L592.7 1283.3 L593.9 1281.6 L595.0 1280.6 L596.4 1280.4 L597.4 1279.8 L598.3 1277.5 L599.1 1275.2 L599.9 1272.9 L600.8 1271.2 L602.0 1270.6 L603.1 1270.9 L604.3 1271.4 L605.4 1272.1 L606.4 1273.5 L607.2 1275.2 L608.0 1277.5 L608.9 1278.7 L610.1 1279.3 L611.2 1279.8 L612.4 1281.0 L613.5 1283.3 L614.4 1286.2 L615.3 1289.1 L616.4 1290.8 L617.6 1293.1 L618.4 1296.6 L619.3 1300.0 L620.2 1302.4 L621.4 1302.9 L622.5 1303.5 L623.7 1305.8 L624.8 1308.7 L626.0 1311.6 L627.1 1313.9 L628.0 1317.4 L628.8 1323.1 L629.5 1330.1 L630.3 1335.8 L631.1 1341.6 L632.0 1345.1 L632.9 1348.5 L633.7 1352.6 L634.3 1357.8 L635.2 1368.1 L635.8 1368.7 L636.7 1364.7 L637.5 1358.9 L638.7 1355.4 L639.8 1352.0 L641.0 1348.5 L642.1 1342.7 L642.9 1334.6 L643.6 1331.2 L644.4 1333.5 L645.2 1338.1 L646.2 1343.3 L647.3 1345.0 L648.5 1347.3 L649.6 1349.1 L650.8 1349.4 L651.9 1347.3 L652.9 1341.6 L653.7 1337.5 L654.5 1337.0 L655.4 1338.7 L656.6 1341.0 L657.5 1346.2 L658.3 1349.7 L659.4 1351.4 L660.6 1353.1 L661.8 1353.7 L662.9 1352.5 L664.1 1353.7 L664.9 1356.6 L665.8 1361.2 L667.0 1363.5 L668.1 1365.8 L669.0 1369.3 L669.8 1378.5 L670.6 1390.1 L671.3 1399.3 L672.1 1408.5 L673.3 1413.2 L674.1 1416.6 L675.3 1421.2 L676.0 1427.0 L676.8 1432.8 L677.6 1434.5 L678.5 1436.3 L679.7 1438.6 L680.6 1446.7 L681.4 1453.6 L682.2 1460.5 L682.9 1466.3 L683.4 1477.9 L684.1 1487.8 L685.2 1492.7 L685.9 1499.1 L686.6 1505.8 L687.3 1505.4 L688.2 1501.9 L689.2 1501.2 L690.1 1504.0 L690.8 1508.9 L691.5 1517.1 L692.2 1517.4 L692.9 1511.8 L694.0 1508.2 L694.7 1504.7 L694.8 1497.6 L695.6 1494.8 L696.3 1493.4 L696.8 1487.1 L697.5 1480.7 L698.2 1470.8 L698.9 1462.4 L699.6 1451.8 L700.2 1450.0 L701.1 1451.8 L701.8 1457.4 L702.5 1465.2 L703.2 1473.6 L703.9 1480.0 L704.6 1486.4 L705.3 1487.8 L706.1 1490.6 L707.1 1492.0 L708.0 1490.6 L708.8 1484.9 L709.5 1476.5 L710.2 1465.9 L710.8 1453.9 L711.5 1448.2 L712.0 1443.3 L712.7 1439.1 L713.2 1438.7 L713.8 1442.6 L714.5 1445.4 L715.2 1444.0 L715.9 1441.9 L716.6 1441.2 L717.3 1440.8 L718.0 1440.5 L718.7 1436.2 L719.4 1432.0 L720.3 1430.6 L720.8 1428.5 L721.4 1424.2 L721.9 1421.4 L722.4 1415.5 L723.0 1409.7 L724.1 1410.9 L724.9 1417.8 L725.6 1425.9 L726.4 1431.6 L727.2 1430.5 L728.2 1424.7 L729.1 1422.4 L729.6 1423.8 L730.8 1425.7 L731.9 1424.9 L733.1 1420.9 L734.2 1417.4 L735.4 1420.9 L736.3 1423.8 L737.1 1423.2 L737.9 1417.4 L738.9 1410.5 L739.8 1402.4 L740.6 1394.3 L741.4 1386.2 L742.3 1380.5 L743.7 1379.9 L744.9 1380.5 L746.0 1379.3 L746.9 1381.6 L747.9 1386.8 L749.2 1387.4 L750.6 1389.1 L751.6 1385.1 L752.5 1379.3 L753.3 1375.8 L754.4 1374.7 L755.3 1370.1 L755.9 1364.3 L756.8 1363.1 L757.6 1366.6 L758.5 1367.8 L759.1 1363.1 L759.9 1360.8 L760.8 1359.1 L761.7 1356.8 L762.5 1352.2 L763.3 1349.3 L764.5 1347.0 L765.4 1343.5 L766.3 1339.8 L767.5 1340.0 L768.9 1340.6 L770.0 1341.8 L771.2 1342.9 L772.3 1342.4 L773.5 1341.2 L774.7 1338.9 L775.8 1336.6 L776.7 1332.5 L777.9 1330.8 L779.0 1330.2 L780.2 1333.1 L781.4 1336.0 L782.5 1337.2 L783.7 1337.7 L784.8 1341.2 L785.6 1344.1 L786.8 1345.2 L787.9 1344.7 L789.1 1342.9 L790.2 1341.2 L791.4 1340.6 L792.6 1340.6 L793.4 1338.3 L794.3 1335.4 L795.4 1334.3 L796.6 1332.5 L797.5 1328.5 L798.7 1325.6 L799.8 1324.5 L800.6 1323.3 L801.4 1326.2 L802.4 1328.5 L803.5 1329.1 L804.7 1329.7 L805.8 1330.8 L807.0 1332.0 L807.9 1334.3" stroke="#7d2181"/>
<path d="M155 1283.4H807.9" stroke="#000" stroke-linecap="butt"/>
</g>
<rect x="122.5" y="34.5" width="718.0" height="460.0" fill="none" stroke="#000" stroke-width="1.04"/>
<rect x="122.5" y="556.5" width="718.0" height="459.79999999999995" fill="none" stroke="#000" stroke-width="1.04"/>
<rect x="122.5" y="1079.0" width="718.0" height="459.0999999999999" fill="none" stroke="#000" stroke-width="1.04"/>
<path d="M154.1 494.5v-6.25M154.1 34.5v6.25M358.77 494.5v-6.25M358.77 34.5v6.25M563.45 494.5v-6.25M563.45 34.5v6.25M768.12 494.5v-6.25M768.12 34.5v6.25M205.27 494.5v-3.1M205.27 34.5v3.1M256.44 494.5v-3.1M256.44 34.5v3.1M307.61 494.5v-3.1M307.61 34.5v3.1M409.94 494.5v-3.1M409.94 34.5v3.1M461.11 494.5v-3.1M461.11 34.5v3.1M512.28 494.5v-3.1M512.28 34.5v3.1M614.62 494.5v-3.1M614.62 34.5v3.1M665.79 494.5v-3.1M665.79 34.5v3.1M716.96 494.5v-3.1M716.96 34.5v3.1M819.29 494.5v-3.1M819.29 34.5v3.1M122.5 488.83h6.25M840.5 488.83h-6.25M122.5 469.34h3.1M840.5 469.34h-3.1M122.5 449.85h3.1M840.5 449.85h-3.1M122.5 430.36h3.1M840.5 430.36h-3.1M122.5 410.87h6.25M840.5 410.87h-6.25M122.5 391.38h3.1M840.5 391.38h-3.1M122.5 371.89h3.1M840.5 371.89h-3.1M122.5 352.4h3.1M840.5 352.4h-3.1M122.5 332.91h6.25M840.5 332.91h-6.25M122.5 313.42h3.1M840.5 313.42h-3.1M122.5 293.93h3.1M840.5 293.93h-3.1M122.5 274.44h3.1M840.5 274.44h-3.1M122.5 254.95h6.25M840.5 254.95h-6.25M122.5 235.46h3.1M840.5 235.46h-3.1M122.5 215.97h3.1M840.5 215.97h-3.1M122.5 196.48h3.1M840.5 196.48h-3.1M122.5 176.99h6.25M840.5 176.99h-6.25M122.5 157.5h3.1M840.5 157.5h-3.1M122.5 138.01h3.1M840.5 138.01h-3.1M122.5 118.52h3.1M840.5 118.52h-3.1M122.5 99.03h6.25M840.5 99.03h-6.25M122.5 79.54h3.1M840.5 79.54h-3.1M122.5 60.05h3.1M840.5 60.05h-3.1M122.5 40.56h3.1M840.5 40.56h-3.1M154.1 1016.3v-6.25M154.1 556.5v6.25M358.77 1016.3v-6.25M358.77 556.5v6.25M563.45 1016.3v-6.25M563.45 556.5v6.25M768.12 1016.3v-6.25M768.12 556.5v6.25M205.27 1016.3v-3.1M205.27 556.5v3.1M256.44 1016.3v-3.1M256.44 556.5v3.1M307.61 1016.3v-3.1M307.61 556.5v3.1M409.94 1016.3v-3.1M409.94 556.5v3.1M461.11 1016.3v-3.1M461.11 556.5v3.1M512.28 1016.3v-3.1M512.28 556.5v3.1M614.62 1016.3v-3.1M614.62 556.5v3.1M665.79 1016.3v-3.1M665.79 556.5v3.1M716.96 1016.3v-3.1M716.96 556.5v3.1M819.29 1016.3v-3.1M819.29 556.5v3.1M122.5 1010.42h6.25M840.5 1010.42h-6.25M122.5 994.35h3.1M840.5 994.35h-3.1M122.5 978.28h3.1M840.5 978.28h-3.1M122.5 962.21h3.1M840.5 962.21h-3.1M122.5 946.14h6.25M840.5 946.14h-6.25M122.5 930.07h3.1M840.5 930.07h-3.1M122.5 914.0h3.1M840.5 914.0h-3.1M122.5 897.93h3.1M840.5 897.93h-3.1M122.5 881.86h6.25M840.5 881.86h-6.25M122.5 865.79h3.1M840.5 865.79h-3.1M122.5 849.72h3.1M840.5 849.72h-3.1M122.5 833.65h3.1M840.5 833.65h-3.1M122.5 817.58h6.25M840.5 817.58h-6.25M122.5 801.51h3.1M840.5 801.51h-3.1M122.5 785.44h3.1M840.5 785.44h-3.1M122.5 769.37h3.1M840.5 769.37h-3.1M122.5 753.3h6.25M840.5 753.3h-6.25M122.5 737.23h3.1M840.5 737.23h-3.1M122.5 721.16h3.1M840.5 721.16h-3.1M122.5 705.09h3.1M840.5 705.09h-3.1M122.5 689.02h6.25M840.5 689.02h-6.25M122.5 672.95h3.1M840.5 672.95h-3.1M122.5 656.88h3.1M840.5 656.88h-3.1M122.5 640.81h3.1M840.5 640.81h-3.1M122.5 624.74h6.25M840.5 624.74h-6.25M122.5 608.67h3.1M840.5 608.67h-3.1M122.5 592.6h3.1M840.5 592.6h-3.1M122.5 576.53h3.1M840.5 576.53h-3.1M122.5 560.46h6.25M840.5 560.46h-6.25M154.1 1538.1v-6.25M154.1 1079.0v6.25M358.77 1538.1v-6.25M358.77 1079.0v6.25M563.45 1538.1v-6.25M563.45 1079.0v6.25M768.12 1538.1v-6.25M768.12 1079.0v6.25M205.27 1538.1v-3.1M205.27 1079.0v3.1M256.44 1538.1v-3.1M256.44 1079.0v3.1M307.61 1538.1v-3.1M307.61 1079.0v3.1M409.94 1538.1v-3.1M409.94 1079.0v3.1M461.11 1538.1v-3.1M461.11 1079.0v3.1M512.28 1538.1v-3.1M512.28 1079.0v3.1M614.62 1538.1v-3.1M614.62 1079.0v3.1M665.79 1538.1v-3.1M665.79 1079.0v3.1M716.96 1538.1v-3.1M716.96 1079.0v3.1M819.29 1538.1v-3.1M819.29 1079.0v3.1M122.5 1530.8h3.1M840.5 1530.8h-3.1M122.5 1511.77h3.1M840.5 1511.77h-3.1M122.5 1492.73h3.1M840.5 1492.73h-3.1M122.5 1473.7h6.25M840.5 1473.7h-6.25M122.5 1454.66h3.1M840.5 1454.66h-3.1M122.5 1435.63h3.1M840.5 1435.63h-3.1M122.5 1416.59h3.1M840.5 1416.59h-3.1M122.5 1397.56h3.1M840.5 1397.56h-3.1M122.5 1378.52h6.25M840.5 1378.52h-6.25M122.5 1359.49h3.1M840.5 1359.49h-3.1M122.5 1340.45h3.1M840.5 1340.45h-3.1M122.5 1321.42h3.1M840.5 1321.42h-3.1M122.5 1302.38h3.1M840.5 1302.38h-3.1M122.5 1283.35h6.25M840.5 1283.35h-6.25M122.5 1264.31h3.1M840.5 1264.31h-3.1M122.5 1245.28h3.1M840.5 1245.28h-3.1M122.5 1226.24h3.1M840.5 1226.24h-3.1M122.5 1207.21h3.1M840.5 1207.21h-3.1M122.5 1188.17h6.25M840.5 1188.17h-6.25M122.5 1169.14h3.1M840.5 1169.14h-3.1M122.5 1150.11h3.1M840.5 1150.11h-3.1M122.5 1131.07h3.1M840.5 1131.07h-3.1M122.5 1112.03h3.1M840.5 1112.03h-3.1M122.5 1093.0h6.25M840.5 1093.0h-6.25" stroke="#000" stroke-width="1.04" fill="none"/>
<text x="175.82" y="22.70" style="font-family:'Liberation Serif',serif;font-size:28.4px;" textLength="610.73" lengthAdjust="spacingAndGlyphs">Average surface air temperature (SAT) anomaly</text>
<text x="92.62" y="544.40" style="font-family:'Liberation Serif',serif;font-size:28.4px;" textLength="777.25" lengthAdjust="spacingAndGlyphs">SAT difference: Sensitivity simuliation - reference simulation</text>
<text x="66.17" y="1066.80" style="font-family:'Liberation Serif',serif;font-size:28.4px;" textLength="830.22" lengthAdjust="spacingAndGlyphs">Hypoxia difference: Sensitivity simuliation - reference simulation</text>
<text x="-0.58" y="23.50" style="font-family:'Liberation Sans',serif;font-size:29.2px;font-weight:bold;" textLength="21.84" lengthAdjust="spacingAndGlyphs">A</text>
<text x="0.01" y="545.70" style="font-family:'Liberation Sans',serif;font-size:29.2px;font-weight:bold;" textLength="21.03" lengthAdjust="spacingAndGlyphs">B</text>
<text x="-0.15" y="1066.20" style="font-family:'Liberation Sans',serif;font-size:29.2px;font-weight:bold;" textLength="21.61" lengthAdjust="spacingAndGlyphs">C</text>
<text transform="translate(61.10,359.23) rotate(-90)" x="0" y="0" style="font-family:'Liberation Serif',serif;font-size:23.4px;" textLength="188.33" lengthAdjust="spacingAndGlyphs">Temperature [°C]</text>
<text transform="translate(61.10,881.23) rotate(-90)" x="0" y="0" style="font-family:'Liberation Serif',serif;font-size:23.4px;" textLength="187.92" lengthAdjust="spacingAndGlyphs">Temperature [°C]</text>
<text transform="translate(38.80,1382.50) rotate(-90)" x="0" y="0" style="font-family:'Liberation Serif',serif;font-size:23.4px;" textLength="139.68" lengthAdjust="spacingAndGlyphs">Hypoxic area</text>
<text x="74.29" y="496.03" style="font-family:'Liberation Serif',serif;font-size:19.0px;" textLength="40.60" lengthAdjust="spacingAndGlyphs">−0.6</text>
<text x="74.30" y="418.07" style="font-family:'Liberation Serif',serif;font-size:19.0px;" textLength="40.30" lengthAdjust="spacingAndGlyphs">−0.4</text>
<text x="74.28" y="340.11" style="font-family:'Liberation Serif',serif;font-size:19.0px;" textLength="41.23" lengthAdjust="spacingAndGlyphs">−0.2</text>
<text x="88.74" y="262.15" style="font-family:'Liberation Serif',serif;font-size:19.0px;" textLength="26.29" lengthAdjust="spacingAndGlyphs">0.0</text>
<text x="88.73" y="184.19" style="font-family:'Liberation Serif',serif;font-size:19.0px;" textLength="26.59" lengthAdjust="spacingAndGlyphs">0.2</text>
<text x="88.76" y="106.23" style="font-family:'Liberation Serif',serif;font-size:19.0px;" textLength="25.71" lengthAdjust="spacingAndGlyphs">0.4</text>
<text x="74.29" y="1017.62" style="font-family:'Liberation Serif',serif;font-size:19.0px;" textLength="40.76" lengthAdjust="spacingAndGlyphs">−0.8</text>
<text x="74.29" y="953.34" style="font-family:'Liberation Serif',serif;font-size:19.0px;" textLength="40.60" lengthAdjust="spacingAndGlyphs">−0.6</text>
<text x="74.30" y="889.06" style="font-family:'Liberation Serif',serif;font-size:19.0px;" textLength="40.30" lengthAdjust="spacingAndGlyphs">−0.4</text>
<text x="74.28" y="824.78" style="font-family:'Liberation Serif',serif;font-size:19.0px;" textLength="41.23" lengthAdjust="spacingAndGlyphs">−0.2</text>
<text x="88.74" y="760.50" style="font-family:'Liberation Serif',serif;font-size:19.0px;" textLength="26.29" lengthAdjust="spacingAndGlyphs">0.0</text>
<text x="88.73" y="696.22" style="font-family:'Liberation Serif',serif;font-size:19.0px;" textLength="26.59" lengthAdjust="spacingAndGlyphs">0.2</text>
<text x="88.76" y="631.94" style="font-family:'Liberation Serif',serif;font-size:19.0px;" textLength="25.71" lengthAdjust="spacingAndGlyphs">0.4</text>
<text x="88.75" y="567.66" style="font-family:'Liberation Serif',serif;font-size:19.0px;" textLength="26.00" lengthAdjust="spacingAndGlyphs">0.6</text>
<text x="79.69" y="1480.90" style="font-family:'Liberation Serif',serif;font-size:19.0px;" textLength="35.36" lengthAdjust="spacingAndGlyphs">−10</text>
<text x="90.48" y="1385.72" style="font-family:'Liberation Serif',serif;font-size:19.0px;" textLength="24.59" lengthAdjust="spacingAndGlyphs">−5</text>
<text x="105.00" y="1290.55" style="font-family:'Liberation Serif',serif;font-size:19.0px;" textLength="9.99" lengthAdjust="spacingAndGlyphs">0</text>
<text x="104.55" y="1195.38" style="font-family:'Liberation Serif',serif;font-size:19.0px;" textLength="10.48" lengthAdjust="spacingAndGlyphs">5</text>
<text x="93.10" y="1100.20" style="font-family:'Liberation Serif',serif;font-size:19.0px;" textLength="21.97" lengthAdjust="spacingAndGlyphs">10</text>
<text x="132.01" y="1559.00" style="font-family:'Liberation Serif',serif;font-size:19.0px;" textLength="43.57" lengthAdjust="spacingAndGlyphs">1000</text>
<text x="336.69" y="1559.00" style="font-family:'Liberation Serif',serif;font-size:19.0px;" textLength="43.57" lengthAdjust="spacingAndGlyphs">1250</text>
<text x="541.36" y="1559.00" style="font-family:'Liberation Serif',serif;font-size:19.0px;" textLength="43.57" lengthAdjust="spacingAndGlyphs">1500</text>
<text x="746.04" y="1559.00" style="font-family:'Liberation Serif',serif;font-size:19.0px;" textLength="43.57" lengthAdjust="spacingAndGlyphs">1750</text>
<text x="184.46" y="948.80" style="font-family:'Liberation Serif',serif;font-size:18.8px;" textLength="102.86" lengthAdjust="spacingAndGlyphs">Amplitude 1</text>
<text x="184.46" y="973.20" style="font-family:'Liberation Serif',serif;font-size:18.8px;" textLength="103.53" lengthAdjust="spacingAndGlyphs">Ampltiude 2</text>
<text x="184.46" y="997.30" style="font-family:'Liberation Serif',serif;font-size:18.8px;" textLength="103.25" lengthAdjust="spacingAndGlyphs">Amplitude 3</text>
<text x="184.46" y="1470.80" style="font-family:'Liberation Serif',serif;font-size:18.8px;" textLength="102.86" lengthAdjust="spacingAndGlyphs">Amplitude 1</text>
<text x="184.46" y="1495.40" style="font-family:'Liberation Serif',serif;font-size:18.8px;" textLength="103.53" lengthAdjust="spacingAndGlyphs">Amplitude 2</text>
<text x="184.46" y="1519.80" style="font-family:'Liberation Serif',serif;font-size:18.8px;" textLength="103.25" lengthAdjust="spacingAndGlyphs">Amplitude 3</text>
<text transform="translate(65.5,1351.6) rotate(-90)" style="font-family:'Liberation Serif',serif;font-size:23.4px" textLength="95" lengthAdjust="spacingAndGlyphs">[10<tspan dy="-9" style="font-size:16.5px">3</tspan><tspan dy="9" style="font-style:italic">km</tspan><tspan dy="-9" style="font-size:16.5px">2</tspan><tspan dy="9">]</tspan></text>
<path d="M136 942.7H172.2" stroke="#e8191e" stroke-width="2.08"/>
<path d="M136 967.1H172.2" stroke="#f8a11f" stroke-width="2.08"/>
<path d="M136 991.2H172.2" stroke="#7d2181" stroke-width="2.08"/>
<path d="M136 1464.7H172.2" stroke="#e8191e" stroke-width="2.08"/>
<path d="M136 1489.3H172.2" stroke="#f8a11f" stroke-width="2.08"/>
<path d="M136 1513.7H172.2" stroke="#7d2181" stroke-width="2.08"/>
</svg></body></html>
